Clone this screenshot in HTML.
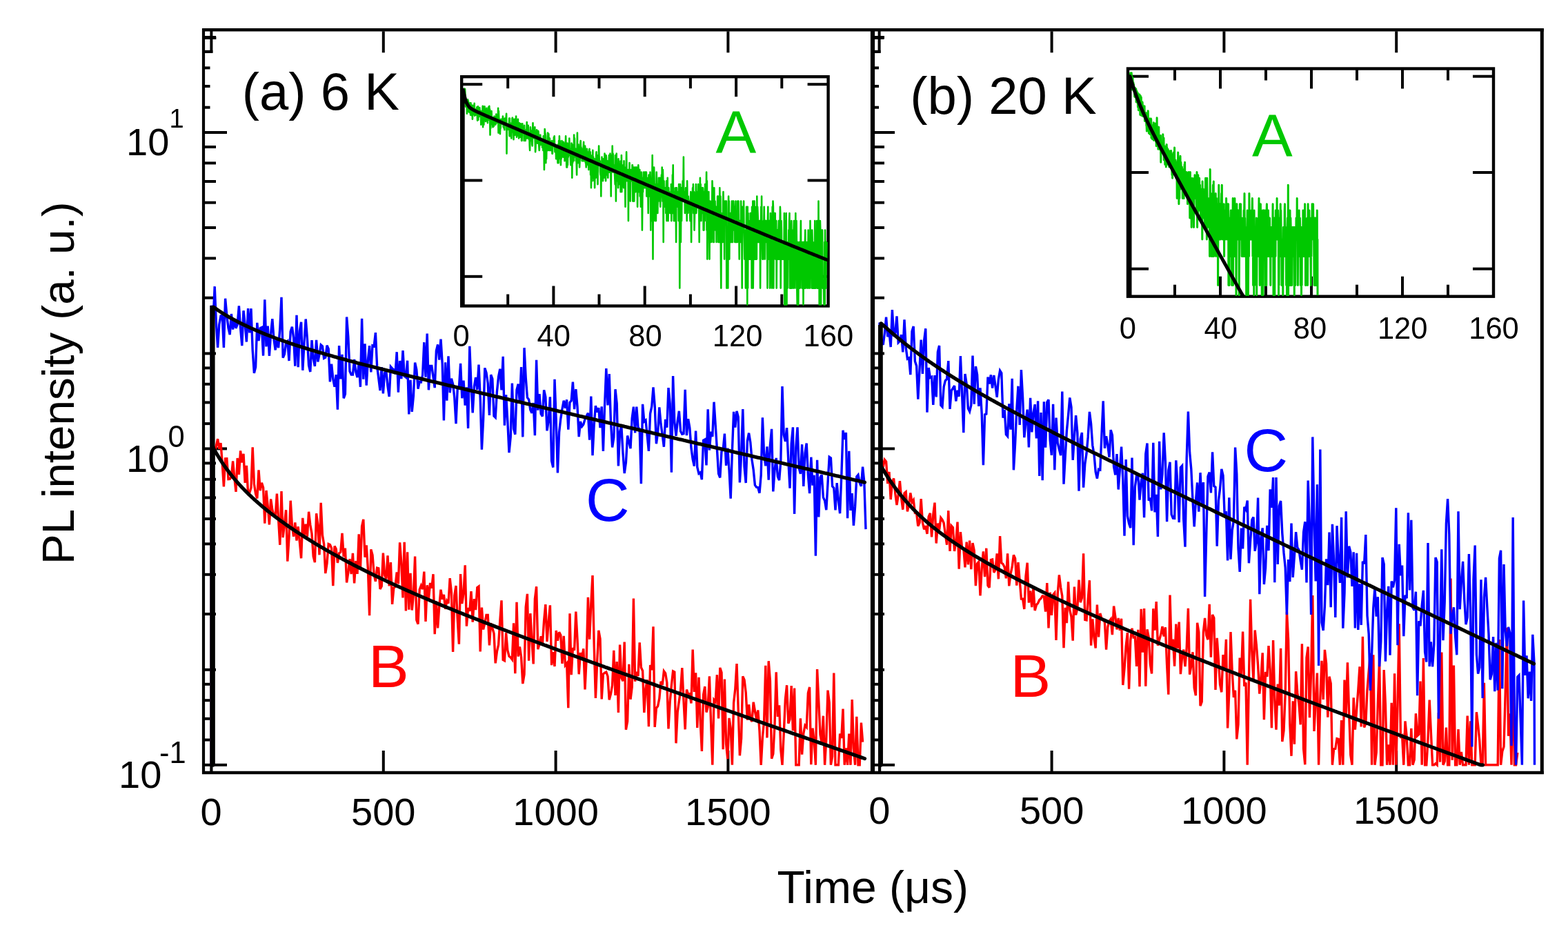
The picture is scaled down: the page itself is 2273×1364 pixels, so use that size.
<!DOCTYPE html>
<html><head><meta charset="utf-8"><title>PL decay</title>
<style>html,body{margin:0;padding:0;background:#fff;overflow:hidden}svg{display:block}text{font-family:"Liberation Sans",Arial,sans-serif}</style>
</head><body>
<svg xmlns="http://www.w3.org/2000/svg" width="2273" height="1364" viewBox="0 0 2273 1364">
<rect x="0" y="0" width="2273" height="1364" fill="#fff"/>
<line x1="293.0" y1="43.3" x2="2237.9" y2="43.3" stroke="#000" stroke-width="4.4" stroke-linecap="butt"/>
<line x1="293.0" y1="1120.0" x2="2237.9" y2="1120.0" stroke="#000" stroke-width="4.4" stroke-linecap="butt"/>
<line x1="295.0" y1="41.3" x2="295.0" y2="1122.0" stroke="#000" stroke-width="4.2" stroke-linecap="butt"/>
<line x1="1265.0" y1="41.3" x2="1265.0" y2="1122.0" stroke="#000" stroke-width="6.2" stroke-linecap="butt"/>
<line x1="2235.3" y1="41.3" x2="2235.3" y2="1122.0" stroke="#000" stroke-width="5.0" stroke-linecap="butt"/>
<line x1="297.0" y1="1108.8" x2="329.0" y2="1108.8" stroke="#000" stroke-width="4" stroke-linecap="butt"/>
<line x1="297.0" y1="970.8" x2="313.0" y2="970.8" stroke="#000" stroke-width="4" stroke-linecap="butt"/>
<line x1="297.0" y1="890.1" x2="313.0" y2="890.1" stroke="#000" stroke-width="4" stroke-linecap="butt"/>
<line x1="297.0" y1="832.8" x2="313.0" y2="832.8" stroke="#000" stroke-width="4" stroke-linecap="butt"/>
<line x1="297.0" y1="788.4" x2="313.0" y2="788.4" stroke="#000" stroke-width="4" stroke-linecap="butt"/>
<line x1="297.0" y1="752.1" x2="313.0" y2="752.1" stroke="#000" stroke-width="4" stroke-linecap="butt"/>
<line x1="297.0" y1="721.4" x2="313.0" y2="721.4" stroke="#000" stroke-width="4" stroke-linecap="butt"/>
<line x1="297.0" y1="694.8" x2="313.0" y2="694.8" stroke="#000" stroke-width="4" stroke-linecap="butt"/>
<line x1="297.0" y1="671.4" x2="313.0" y2="671.4" stroke="#000" stroke-width="4" stroke-linecap="butt"/>
<line x1="297.0" y1="1072.5" x2="304.5" y2="1072.5" stroke="#000" stroke-width="4" stroke-linecap="butt"/>
<line x1="297.0" y1="1041.8" x2="304.5" y2="1041.8" stroke="#000" stroke-width="4" stroke-linecap="butt"/>
<line x1="297.0" y1="1015.2" x2="304.5" y2="1015.2" stroke="#000" stroke-width="4" stroke-linecap="butt"/>
<line x1="297.0" y1="991.8" x2="304.5" y2="991.8" stroke="#000" stroke-width="4" stroke-linecap="butt"/>
<line x1="297.0" y1="650.4" x2="329.0" y2="650.4" stroke="#000" stroke-width="4" stroke-linecap="butt"/>
<line x1="297.0" y1="512.4" x2="313.0" y2="512.4" stroke="#000" stroke-width="4" stroke-linecap="butt"/>
<line x1="297.0" y1="431.7" x2="313.0" y2="431.7" stroke="#000" stroke-width="4" stroke-linecap="butt"/>
<line x1="297.0" y1="374.4" x2="313.0" y2="374.4" stroke="#000" stroke-width="4" stroke-linecap="butt"/>
<line x1="297.0" y1="330.0" x2="313.0" y2="330.0" stroke="#000" stroke-width="4" stroke-linecap="butt"/>
<line x1="297.0" y1="293.7" x2="313.0" y2="293.7" stroke="#000" stroke-width="4" stroke-linecap="butt"/>
<line x1="297.0" y1="263.0" x2="313.0" y2="263.0" stroke="#000" stroke-width="4" stroke-linecap="butt"/>
<line x1="297.0" y1="236.4" x2="313.0" y2="236.4" stroke="#000" stroke-width="4" stroke-linecap="butt"/>
<line x1="297.0" y1="213.0" x2="313.0" y2="213.0" stroke="#000" stroke-width="4" stroke-linecap="butt"/>
<line x1="297.0" y1="614.1" x2="304.5" y2="614.1" stroke="#000" stroke-width="4" stroke-linecap="butt"/>
<line x1="297.0" y1="583.4" x2="304.5" y2="583.4" stroke="#000" stroke-width="4" stroke-linecap="butt"/>
<line x1="297.0" y1="556.8" x2="304.5" y2="556.8" stroke="#000" stroke-width="4" stroke-linecap="butt"/>
<line x1="297.0" y1="533.4" x2="304.5" y2="533.4" stroke="#000" stroke-width="4" stroke-linecap="butt"/>
<line x1="297.0" y1="192.0" x2="329.0" y2="192.0" stroke="#000" stroke-width="4" stroke-linecap="butt"/>
<line x1="297.0" y1="54.0" x2="313.0" y2="54.0" stroke="#000" stroke-width="4" stroke-linecap="butt"/>
<line x1="297.0" y1="155.7" x2="304.5" y2="155.7" stroke="#000" stroke-width="4" stroke-linecap="butt"/>
<line x1="297.0" y1="125.0" x2="304.5" y2="125.0" stroke="#000" stroke-width="4" stroke-linecap="butt"/>
<line x1="297.0" y1="98.4" x2="304.5" y2="98.4" stroke="#000" stroke-width="4" stroke-linecap="butt"/>
<line x1="297.0" y1="75.0" x2="304.5" y2="75.0" stroke="#000" stroke-width="4" stroke-linecap="butt"/>
<line x1="1268.0" y1="1108.8" x2="1297.0" y2="1108.8" stroke="#000" stroke-width="4" stroke-linecap="butt"/>
<line x1="1268.0" y1="970.8" x2="1282.0" y2="970.8" stroke="#000" stroke-width="4" stroke-linecap="butt"/>
<line x1="1268.0" y1="890.1" x2="1282.0" y2="890.1" stroke="#000" stroke-width="4" stroke-linecap="butt"/>
<line x1="1268.0" y1="832.8" x2="1282.0" y2="832.8" stroke="#000" stroke-width="4" stroke-linecap="butt"/>
<line x1="1268.0" y1="788.4" x2="1282.0" y2="788.4" stroke="#000" stroke-width="4" stroke-linecap="butt"/>
<line x1="1268.0" y1="752.1" x2="1282.0" y2="752.1" stroke="#000" stroke-width="4" stroke-linecap="butt"/>
<line x1="1268.0" y1="721.4" x2="1282.0" y2="721.4" stroke="#000" stroke-width="4" stroke-linecap="butt"/>
<line x1="1268.0" y1="694.8" x2="1282.0" y2="694.8" stroke="#000" stroke-width="4" stroke-linecap="butt"/>
<line x1="1268.0" y1="671.4" x2="1282.0" y2="671.4" stroke="#000" stroke-width="4" stroke-linecap="butt"/>
<line x1="1268.0" y1="1072.5" x2="1274.0" y2="1072.5" stroke="#000" stroke-width="4" stroke-linecap="butt"/>
<line x1="1268.0" y1="1041.8" x2="1274.0" y2="1041.8" stroke="#000" stroke-width="4" stroke-linecap="butt"/>
<line x1="1268.0" y1="1015.2" x2="1274.0" y2="1015.2" stroke="#000" stroke-width="4" stroke-linecap="butt"/>
<line x1="1268.0" y1="991.8" x2="1274.0" y2="991.8" stroke="#000" stroke-width="4" stroke-linecap="butt"/>
<line x1="1268.0" y1="650.4" x2="1297.0" y2="650.4" stroke="#000" stroke-width="4" stroke-linecap="butt"/>
<line x1="1268.0" y1="512.4" x2="1282.0" y2="512.4" stroke="#000" stroke-width="4" stroke-linecap="butt"/>
<line x1="1268.0" y1="431.7" x2="1282.0" y2="431.7" stroke="#000" stroke-width="4" stroke-linecap="butt"/>
<line x1="1268.0" y1="374.4" x2="1282.0" y2="374.4" stroke="#000" stroke-width="4" stroke-linecap="butt"/>
<line x1="1268.0" y1="330.0" x2="1282.0" y2="330.0" stroke="#000" stroke-width="4" stroke-linecap="butt"/>
<line x1="1268.0" y1="293.7" x2="1282.0" y2="293.7" stroke="#000" stroke-width="4" stroke-linecap="butt"/>
<line x1="1268.0" y1="263.0" x2="1282.0" y2="263.0" stroke="#000" stroke-width="4" stroke-linecap="butt"/>
<line x1="1268.0" y1="236.4" x2="1282.0" y2="236.4" stroke="#000" stroke-width="4" stroke-linecap="butt"/>
<line x1="1268.0" y1="213.0" x2="1282.0" y2="213.0" stroke="#000" stroke-width="4" stroke-linecap="butt"/>
<line x1="1268.0" y1="614.1" x2="1274.0" y2="614.1" stroke="#000" stroke-width="4" stroke-linecap="butt"/>
<line x1="1268.0" y1="583.4" x2="1274.0" y2="583.4" stroke="#000" stroke-width="4" stroke-linecap="butt"/>
<line x1="1268.0" y1="556.8" x2="1274.0" y2="556.8" stroke="#000" stroke-width="4" stroke-linecap="butt"/>
<line x1="1268.0" y1="533.4" x2="1274.0" y2="533.4" stroke="#000" stroke-width="4" stroke-linecap="butt"/>
<line x1="1268.0" y1="192.0" x2="1297.0" y2="192.0" stroke="#000" stroke-width="4" stroke-linecap="butt"/>
<line x1="1268.0" y1="54.0" x2="1282.0" y2="54.0" stroke="#000" stroke-width="4" stroke-linecap="butt"/>
<line x1="1268.0" y1="155.7" x2="1274.0" y2="155.7" stroke="#000" stroke-width="4" stroke-linecap="butt"/>
<line x1="1268.0" y1="125.0" x2="1274.0" y2="125.0" stroke="#000" stroke-width="4" stroke-linecap="butt"/>
<line x1="1268.0" y1="98.4" x2="1274.0" y2="98.4" stroke="#000" stroke-width="4" stroke-linecap="butt"/>
<line x1="1268.0" y1="75.0" x2="1274.0" y2="75.0" stroke="#000" stroke-width="4" stroke-linecap="butt"/>
<line x1="555.8" y1="45.3" x2="555.8" y2="76.3" stroke="#000" stroke-width="4" stroke-linecap="butt"/>
<line x1="555.8" y1="1118.0" x2="555.8" y2="1088.0" stroke="#000" stroke-width="4" stroke-linecap="butt"/>
<line x1="805.6" y1="45.3" x2="805.6" y2="76.3" stroke="#000" stroke-width="4" stroke-linecap="butt"/>
<line x1="805.6" y1="1118.0" x2="805.6" y2="1088.0" stroke="#000" stroke-width="4" stroke-linecap="butt"/>
<line x1="1055.4" y1="45.3" x2="1055.4" y2="76.3" stroke="#000" stroke-width="4" stroke-linecap="butt"/>
<line x1="1055.4" y1="1118.0" x2="1055.4" y2="1088.0" stroke="#000" stroke-width="4" stroke-linecap="butt"/>
<line x1="1524.6" y1="45.3" x2="1524.6" y2="76.3" stroke="#000" stroke-width="4" stroke-linecap="butt"/>
<line x1="1524.6" y1="1118.0" x2="1524.6" y2="1088.0" stroke="#000" stroke-width="4" stroke-linecap="butt"/>
<line x1="1774.4" y1="45.3" x2="1774.4" y2="76.3" stroke="#000" stroke-width="4" stroke-linecap="butt"/>
<line x1="1774.4" y1="1118.0" x2="1774.4" y2="1088.0" stroke="#000" stroke-width="4" stroke-linecap="butt"/>
<line x1="2024.2" y1="45.3" x2="2024.2" y2="76.3" stroke="#000" stroke-width="4" stroke-linecap="butt"/>
<line x1="2024.2" y1="1118.0" x2="2024.2" y2="1088.0" stroke="#000" stroke-width="4" stroke-linecap="butt"/>
<line x1="306.4" y1="43.3" x2="306.4" y2="76.8" stroke="#000" stroke-width="4" stroke-linecap="butt"/>
<line x1="295.0" y1="74.8" x2="308.4" y2="74.8" stroke="#000" stroke-width="4" stroke-linecap="butt"/>
<line x1="295.0" y1="55.0" x2="313.4" y2="55.0" stroke="#000" stroke-width="4" stroke-linecap="butt"/>
<line x1="1274.6" y1="43.3" x2="1274.6" y2="76.8" stroke="#000" stroke-width="4" stroke-linecap="butt"/>
<line x1="1265.0" y1="74.8" x2="1276.6" y2="74.8" stroke="#000" stroke-width="4" stroke-linecap="butt"/>
<line x1="1265.0" y1="55.0" x2="1281.6" y2="55.0" stroke="#000" stroke-width="4" stroke-linecap="butt"/>
<polyline points="306.4,1108.8 306.4,644.1 309.0,643.6 311.2,655.0 313.4,646.3 315.6,636.2 317.8,650.7 320.0,642.1 322.2,671.0 324.4,705.3 326.6,664.8 328.8,664.7 331.0,694.7 333.2,694.5 335.4,691.0 337.6,668.3 339.8,692.4 342.0,712.8 344.2,664.0 346.4,687.9 348.6,653.4 350.8,670.5 353.0,657.9 355.2,699.8 357.4,674.9 359.6,715.4 361.8,714.2 364.0,707.0 366.2,648.3 368.4,701.4 370.6,715.8 372.8,722.4 375.0,681.4 377.2,711.2 379.4,699.7 381.6,706.7 383.8,758.6 386.0,711.0 388.2,733.5 390.4,760.5 392.6,723.4 394.8,738.8 397.0,747.3 399.2,748.3 401.4,715.5 403.6,752.9 405.8,789.9 408.0,712.0 410.2,779.1 412.4,759.5 414.6,739.2 416.8,813.7 419.0,779.4 421.2,725.7 423.4,762.2 425.6,777.8 427.8,757.5 430.0,783.5 432.2,763.3 434.4,785.5 436.6,809.3 438.8,750.8 441.0,777.5 443.2,759.8 445.4,777.9 447.6,741.8 449.8,761.0 452.0,773.5 454.2,806.5 456.4,815.2 458.6,744.3 460.8,760.8 463.0,804.3 465.2,728.8 467.4,775.6 469.6,788.6 471.8,831.1 474.0,816.5 476.2,788.5 478.4,789.5 480.6,794.6 482.8,849.3 485.0,791.6 487.2,795.8 489.4,815.9 491.6,802.0 493.8,800.1 496.0,772.9 498.2,807.0 500.4,794.6 502.6,844.5 504.8,829.8 507.0,810.2 509.2,832.1 511.4,801.8 513.6,845.5 515.8,813.1 518.0,831.9 520.2,774.2 522.4,825.7 524.6,762.9 526.8,752.8 529.0,807.8 531.2,790.4 533.4,825.0 535.6,892.1 537.8,796.4 540.0,804.5 542.2,832.4 544.4,842.9 546.6,823.2 548.8,823.8 551.0,853.9 553.2,849.9 555.4,801.5 557.6,833.7 559.8,839.0 562.0,805.4 564.2,849.4 566.4,815.0 568.6,875.9 570.8,852.3 573.0,850.1 575.2,829.5 577.4,846.4 579.6,786.4 581.8,816.2 584.0,866.4 586.2,785.8 588.4,885.4 590.6,800.2 592.8,883.8 595.0,830.8 597.2,884.5 599.4,862.5 601.6,806.5 603.8,898.6 606.0,904.7 608.2,854.5 610.4,848.8 612.6,854.1 614.8,828.6 617.0,901.0 619.2,848.3 621.4,868.0 623.6,845.0 625.8,852.6 628.0,832.2 630.2,919.1 632.4,871.5 634.6,910.5 636.8,878.4 639.0,854.7 641.2,868.7 643.4,861.9 645.6,882.9 647.8,870.9 650.0,874.6 652.2,838.2 654.4,858.8 656.6,945.0 658.8,863.1 661.0,849.0 663.2,897.0 665.4,933.6 667.6,832.0 669.8,875.1 672.0,859.6 674.2,819.4 676.4,907.6 678.6,881.2 680.8,885.8 683.0,857.1 685.2,901.7 687.4,868.2 689.6,884.1 691.8,851.7 694.0,850.1 696.2,944.5 698.4,880.6 700.6,912.3 702.8,903.2 705.0,891.4 707.2,891.5 709.4,935.3 711.6,903.3 713.8,910.5 716.0,918.0 718.2,961.3 720.4,944.5 722.6,934.5 724.8,900.1 727.0,870.4 729.2,956.5 731.4,957.7 733.6,917.4 735.8,942.6 738.0,951.2 740.2,953.0 742.4,955.9 744.6,903.4 746.8,976.3 749.0,872.7 751.2,951.6 753.4,937.6 755.6,952.3 757.8,991.1 760.0,977.6 762.2,880.0 764.4,860.9 766.6,957.6 768.8,889.2 771.0,928.6 773.2,962.4 775.4,868.1 777.6,850.3 779.8,941.1 782.0,933.5 784.2,922.2 786.4,933.4 788.6,899.6 790.8,876.1 793.0,930.0 795.2,901.1 797.4,877.3 799.6,964.1 801.8,945.2 804.0,966.0 806.2,914.1 808.4,928.8 810.6,916.3 812.8,920.6 815.0,961.8 817.2,921.8 819.4,964.3 821.6,961.5 823.8,1026.3 826.0,889.2 828.2,978.2 830.4,939.2 832.6,942.7 834.8,886.6 837.0,927.0 839.2,977.3 841.4,946.2 843.6,954.1 845.8,940.2 848.0,999.5 850.2,953.4 852.4,865.8 854.6,926.6 856.8,875.1 859.0,834.1 861.2,935.3 863.4,1012.0 865.6,961.3 867.8,913.8 870.0,925.9 872.2,1013.4 874.4,977.0 876.6,975.3 878.8,974.1 881.0,980.3 883.2,1014.4 885.4,1006.0 887.6,993.4 889.8,942.8 892.0,1008.0 894.2,959.0 896.4,1033.0 898.6,934.6 900.8,982.3 903.0,987.3 905.2,930.5 907.4,1057.8 909.6,1045.6 911.8,962.9 914.0,1013.7 916.2,995.8 918.4,867.5 920.6,987.8 922.8,973.7 925.0,979.9 927.2,931.4 929.4,967.5 931.6,972.5 933.8,1032.9 936.0,998.1 938.2,985.3 940.4,1053.1 942.6,964.0 944.8,971.1 947.0,908.3 949.2,1053.9 951.4,1026.5 953.6,1023.5 955.8,1012.6 958.0,987.8 960.2,992.8 962.4,972.8 964.6,975.9 966.8,989.4 969.0,1056.4 971.2,1017.2 973.4,993.1 975.6,972.9 977.8,974.1 980.0,1077.3 982.2,1032.2 984.4,1016.3 986.6,1000.4 988.8,968.1 991.0,1015.5 993.2,1057.3 995.4,999.6 997.6,1006.4 999.8,1005.7 1002.0,1019.4 1004.2,941.6 1006.4,1002.9 1008.6,975.2 1010.8,1055.0 1013.0,981.7 1015.2,1044.3 1017.4,1089.0 1019.6,1007.1 1021.8,995.1 1024.0,1032.5 1026.2,1024.6 1028.4,980.4 1030.6,1047.8 1032.8,1108.8 1035.0,1014.4 1037.2,1017.2 1039.4,978.2 1041.6,1041.4 1043.8,967.9 1046.0,974.8 1048.2,1086.3 1050.4,984.6 1052.6,1078.5 1054.8,1100.2 1057.0,1040.9 1059.2,1055.4 1061.4,1108.8 1063.6,1018.7 1065.8,998.6 1068.0,962.0 1070.2,1027.5 1072.4,1095.3 1074.6,1070.3 1076.8,980.4 1079.0,985.5 1081.2,1004.0 1083.4,1043.7 1085.6,1021.3 1087.8,1041.8 1090.0,1046.1 1092.2,1017.7 1094.4,1030.6 1096.6,1042.5 1098.8,1029.5 1101.0,1059.3 1103.2,1108.8 1105.4,1068.7 1107.6,1045.7 1109.8,964.7 1112.0,1069.4 1114.2,958.2 1116.4,986.8 1118.6,1099.7 1120.8,1092.6 1123.0,1051.1 1125.2,974.2 1127.4,1038.9 1129.6,1022.3 1131.8,1086.3 1134.0,1108.8 1136.2,1063.7 1138.4,1013.7 1140.6,993.3 1142.8,1048.8 1145.0,1042.6 1147.2,994.0 1149.4,1059.1 1151.6,997.6 1153.8,1108.8 1156.0,1108.8 1158.2,1108.8 1160.4,1041.2 1162.6,1093.6 1164.8,1063.0 1167.0,1051.6 1169.2,1054.2 1171.4,1004.5 1173.6,996.0 1175.8,1108.3 1178.0,1055.5 1180.2,1074.0 1182.4,1108.8 1184.6,970.0 1186.8,1016.7 1189.0,1064.7 1191.2,1076.6 1193.4,1037.7 1195.6,1108.8 1197.8,1071.6 1200.0,1000.6 1202.2,1018.2 1204.4,1108.8 1206.6,1096.6 1208.8,975.6 1211.0,1108.8 1213.2,1108.8 1215.4,1108.8 1217.6,1063.7 1219.8,1069.8 1222.0,1027.6 1224.2,1108.8 1226.4,1084.3 1228.6,1108.8 1230.8,1063.7 1233.0,1108.8 1235.2,1014.0 1237.4,1084.3 1239.6,1108.8 1241.8,1038.7 1244.0,1108.8 1246.2,1108.8 1248.4,1047.6 1250.6,1075.7" fill="none" stroke="#ff0000" stroke-width="3.4" stroke-linejoin="miter" stroke-miterlimit="3" />
<polyline points="306.4,1108.8 306.4,442.8 309.0,464.8 311.2,415.2 313.4,468.9 315.6,503.8 317.8,470.1 320.0,458.0 322.2,457.6 324.4,503.9 326.6,432.7 328.8,457.3 331.0,475.3 333.2,485.2 335.4,455.0 337.6,477.5 339.8,463.4 342.0,475.8 344.2,470.0 346.4,443.3 348.6,475.4 350.8,501.2 353.0,450.2 355.2,470.3 357.4,495.5 359.6,447.2 361.8,482.4 364.0,447.2 366.2,508.0 368.4,540.8 370.6,531.9 372.8,467.9 375.0,494.1 377.2,475.6 379.4,474.6 381.6,515.7 383.8,434.4 386.0,502.4 388.2,472.6 390.4,516.0 392.6,483.6 394.8,462.1 397.0,491.8 399.2,507.4 401.4,489.4 403.6,504.2 405.8,476.5 408.0,430.9 410.2,518.6 412.4,513.2 414.6,497.4 416.8,494.9 419.0,523.0 421.2,480.6 423.4,473.8 425.6,489.5 427.8,530.7 430.0,456.8 432.2,532.2 434.4,479.6 436.6,466.9 438.8,536.8 441.0,496.9 443.2,462.5 445.4,490.8 447.6,529.8 449.8,539.0 452.0,493.2 454.2,520.0 456.4,530.9 458.6,492.9 460.8,524.4 463.0,513.7 465.2,499.9 467.4,501.9 469.6,519.3 471.8,518.2 474.0,500.8 476.2,505.7 478.4,553.3 480.6,527.6 482.8,549.5 485.0,560.6 487.2,543.1 489.4,593.8 491.6,501.1 493.8,549.3 496.0,513.8 498.2,577.3 500.4,571.3 502.6,459.5 504.8,488.4 507.0,538.0 509.2,543.0 511.4,543.0 513.6,520.9 515.8,538.9 518.0,547.1 520.2,526.5 522.4,560.9 524.6,461.9 526.8,549.7 529.0,498.4 531.2,558.7 533.4,521.8 535.6,501.1 537.8,539.5 540.0,500.8 542.2,501.6 544.4,482.2 546.6,530.9 548.8,548.3 551.0,566.1 553.2,532.2 555.4,570.5 557.6,540.6 559.8,538.3 562.0,559.5 564.2,574.9 566.4,531.6 568.6,534.1 570.8,535.9 573.0,542.3 575.2,510.2 577.4,568.6 579.6,523.0 581.8,549.1 584.0,508.2 586.2,545.2 588.4,546.9 590.6,522.7 592.8,600.4 595.0,550.9 597.2,596.9 599.4,573.9 601.6,525.5 603.8,535.7 606.0,563.6 608.2,553.4 610.4,553.9 612.6,543.9 614.8,496.2 617.0,546.6 619.2,483.6 621.4,565.3 623.6,530.4 625.8,530.5 628.0,546.3 630.2,562.1 632.4,508.6 634.6,499.3 636.8,521.7 639.0,491.6 641.2,527.1 643.4,609.4 645.6,525.4 647.8,580.8 650.0,516.2 652.2,569.3 654.4,548.8 656.6,556.7 658.8,576.3 661.0,614.1 663.2,564.0 665.4,561.8 667.6,526.8 669.8,577.3 672.0,551.7 674.2,587.6 676.4,561.4 678.6,620.9 680.8,501.9 683.0,558.5 685.2,598.3 687.4,560.0 689.6,547.0 691.8,564.8 694.0,528.7 696.2,577.2 698.4,651.7 700.6,608.2 702.8,533.4 705.0,540.5 707.2,555.3 709.4,602.0 711.6,543.2 713.8,549.1 716.0,603.0 718.2,605.2 720.4,567.9 722.6,546.1 724.8,534.7 727.0,565.4 729.2,516.8 731.4,616.7 733.6,572.3 735.8,609.8 738.0,656.2 740.2,633.3 742.4,555.5 744.6,621.6 746.8,629.8 749.0,565.2 751.2,556.7 753.4,583.0 755.6,532.1 757.8,633.4 760.0,504.2 762.2,547.6 764.4,576.2 766.6,579.1 768.8,594.0 771.0,598.7 773.2,584.1 775.4,631.2 777.6,521.8 779.8,594.6 782.0,571.1 784.2,599.9 786.4,603.5 788.6,565.4 790.8,575.3 793.0,624.3 795.2,609.7 797.4,575.3 799.6,668.1 801.8,677.5 804.0,549.8 806.2,609.6 808.4,685.4 810.6,626.3 812.8,606.9 815.0,592.8 817.2,580.7 819.4,591.6 821.6,579.4 823.8,622.7 826.0,583.4 828.2,580.9 830.4,553.6 832.6,593.1 834.8,564.2 837.0,589.6 839.2,633.1 841.4,611.0 843.6,618.0 845.8,615.1 848.0,607.5 850.2,603.0 852.4,598.7 854.6,637.7 856.8,574.6 859.0,660.2 861.2,615.5 863.4,588.1 865.6,597.5 867.8,591.2 870.0,620.2 872.2,589.4 874.4,654.0 876.6,586.7 878.8,534.1 881.0,587.4 883.2,542.0 885.4,610.3 887.6,648.5 889.8,634.0 892.0,564.2 894.2,584.9 896.4,675.4 898.6,625.8 900.8,617.1 903.0,657.0 905.2,686.0 907.4,670.4 909.6,631.5 911.8,640.7 914.0,650.2 916.2,606.5 918.4,589.7 920.6,627.4 922.8,589.7 925.0,619.1 927.2,622.6 929.4,701.2 931.6,585.8 933.8,611.0 936.0,609.1 938.2,631.1 940.4,653.9 942.6,599.6 944.8,589.1 947.0,561.3 949.2,588.6 951.4,643.2 953.6,627.0 955.8,590.4 958.0,614.6 960.2,630.3 962.4,647.7 964.6,607.9 966.8,619.7 969.0,562.1 971.2,585.1 973.4,684.7 975.6,545.1 977.8,611.6 980.0,631.7 982.2,610.5 984.4,595.8 986.6,625.0 988.8,629.2 991.0,628.7 993.2,564.9 995.4,631.1 997.6,607.2 999.8,620.0 1002.0,649.6 1004.2,665.8 1006.4,675.7 1008.6,624.6 1010.8,677.2 1013.0,686.4 1015.2,684.9 1017.4,695.1 1019.6,638.3 1021.8,637.1 1024.0,674.4 1026.2,593.4 1028.4,652.5 1030.6,625.7 1032.8,632.9 1035.0,582.7 1037.2,616.4 1039.4,650.8 1041.6,686.7 1043.8,692.4 1046.0,654.1 1048.2,651.7 1050.4,628.7 1052.6,674.8 1054.8,649.6 1057.0,680.8 1059.2,722.6 1061.4,653.7 1063.6,596.8 1065.8,619.5 1068.0,595.8 1070.2,604.6 1072.4,699.5 1074.6,658.8 1076.8,593.1 1079.0,676.1 1081.2,700.0 1083.4,638.9 1085.6,627.7 1087.8,641.1 1090.0,666.4 1092.2,681.0 1094.4,703.2 1096.6,706.2 1098.8,706.7 1101.0,714.7 1103.2,688.6 1105.4,605.2 1107.6,659.0 1109.8,675.3 1112.0,647.4 1114.2,695.6 1116.4,645.3 1118.6,621.9 1120.8,712.4 1123.0,681.4 1125.2,663.9 1127.4,690.8 1129.6,696.0 1131.8,668.5 1134.0,560.1 1136.2,630.4 1138.4,639.8 1140.6,620.2 1142.8,667.3 1145.0,707.6 1147.2,643.2 1149.4,619.4 1151.6,745.0 1153.8,648.7 1156.0,619.3 1158.2,678.3 1160.4,686.9 1162.6,644.2 1164.8,705.0 1167.0,657.0 1169.2,642.5 1171.4,688.5 1173.6,715.1 1175.8,662.7 1178.0,703.6 1180.2,688.8 1182.4,805.8 1184.6,666.8 1186.8,749.4 1189.0,692.0 1191.2,688.3 1193.4,720.9 1195.6,725.7 1197.8,739.2 1200.0,700.6 1202.2,662.4 1204.4,664.0 1206.6,704.8 1208.8,707.4 1211.0,739.5 1213.2,700.2 1215.4,725.5 1217.6,744.2 1219.8,689.9 1222.0,623.7 1224.2,636.9 1226.4,627.0 1228.6,751.2 1230.8,653.8 1233.0,739.9 1235.2,715.0 1237.4,761.8 1239.6,734.4 1241.8,690.9 1244.0,688.3 1246.2,699.9 1248.4,704.7 1250.6,676.6 1252.8,698.6 1255.0,767.1" fill="none" stroke="#0000ff" stroke-width="3.4" stroke-linejoin="miter" stroke-miterlimit="3" />
<polyline points="1275.1,1108.8 1275.1,673.5 1278.0,665.4 1280.2,677.1 1282.4,666.4 1284.6,669.1 1286.8,701.1 1289.0,684.0 1291.2,724.0 1293.4,699.5 1295.6,693.3 1297.8,715.4 1300.0,732.1 1302.2,717.6 1304.4,697.2 1306.6,721.8 1308.8,738.7 1311.0,714.8 1313.2,712.9 1315.4,741.3 1317.6,730.9 1319.8,714.6 1322.0,728.0 1324.2,724.8 1326.4,743.5 1328.6,743.5 1330.8,762.5 1333.0,757.9 1335.2,723.2 1337.4,757.3 1339.6,767.4 1341.8,762.2 1344.0,773.9 1346.2,749.0 1348.4,743.9 1350.6,778.4 1352.8,745.7 1355.0,728.6 1357.2,787.5 1359.4,758.6 1361.6,768.2 1363.8,750.4 1366.0,753.3 1368.2,758.3 1370.4,774.7 1372.6,789.7 1374.8,740.2 1377.0,798.9 1379.2,762.1 1381.4,764.6 1383.6,799.0 1385.8,784.6 1388.0,756.6 1390.2,824.8 1392.4,771.1 1394.6,794.7 1396.8,795.3 1399.0,822.4 1401.2,785.7 1403.4,818.3 1405.6,783.6 1407.8,825.1 1410.0,787.1 1412.2,797.9 1414.4,849.2 1416.6,817.0 1418.8,814.4 1421.0,863.5 1423.2,824.1 1425.4,799.3 1427.6,836.2 1429.8,794.7 1432.0,848.6 1434.2,851.7 1436.4,811.6 1438.6,810.9 1440.8,829.9 1443.0,826.0 1445.2,802.4 1447.4,839.3 1449.6,777.0 1451.8,816.0 1454.0,817.6 1456.2,822.2 1458.4,838.3 1460.6,802.3 1462.8,849.3 1465.0,832.0 1467.2,821.7 1469.4,804.4 1471.6,809.4 1473.8,848.7 1476.0,815.1 1478.2,841.9 1480.4,868.1 1482.6,868.0 1484.8,882.9 1487.0,835.3 1489.2,815.7 1491.4,873.6 1493.6,856.3 1495.8,880.1 1498.0,851.4 1500.2,885.0 1502.4,876.7 1504.6,874.4 1506.8,869.6 1509.0,867.5 1511.2,863.9 1513.4,864.4 1515.6,886.6 1517.8,845.0 1520.0,910.4 1522.2,858.7 1524.4,891.9 1526.6,862.2 1528.8,859.4 1531.0,928.0 1533.2,860.6 1535.4,833.5 1537.6,851.2 1539.8,864.0 1542.0,939.1 1544.2,880.8 1546.4,903.2 1548.6,843.3 1550.8,884.6 1553.0,894.1 1555.2,928.7 1557.4,850.6 1559.6,891.4 1561.8,882.0 1564.0,840.6 1566.2,873.2 1568.4,866.8 1570.6,802.2 1572.8,898.3 1575.0,898.8 1577.2,868.8 1579.4,841.2 1581.6,935.7 1583.8,897.4 1586.0,924.6 1588.2,939.4 1590.4,876.6 1592.6,923.3 1594.8,889.0 1597.0,896.6 1599.2,897.7 1601.4,901.9 1603.6,941.7 1605.8,908.8 1608.0,900.4 1610.2,897.5 1612.4,920.2 1614.6,878.5 1616.8,894.1 1619.0,912.4 1621.2,896.0 1623.4,913.7 1625.6,896.8 1627.8,993.0 1630.0,968.9 1632.2,936.6 1634.4,917.1 1636.6,998.7 1638.8,927.8 1641.0,910.7 1643.2,923.9 1645.4,923.4 1647.6,966.0 1649.8,912.8 1652.0,995.3 1654.2,882.8 1656.4,945.6 1658.6,882.0 1660.8,994.6 1663.0,912.3 1665.2,923.8 1667.4,963.0 1669.6,976.4 1671.8,882.2 1674.0,913.7 1676.2,872.1 1678.4,935.8 1680.6,927.5 1682.8,919.7 1685.0,908.0 1687.2,922.5 1689.4,909.2 1691.6,963.8 1693.8,1006.7 1696.0,862.5 1698.2,939.2 1700.4,926.7 1702.6,965.7 1704.8,904.6 1707.0,939.7 1709.2,901.5 1711.4,977.1 1713.6,952.0 1715.8,941.7 1718.0,966.1 1720.2,939.3 1722.4,881.8 1724.6,977.6 1726.8,965.0 1729.0,945.2 1731.2,997.0 1733.4,1008.1 1735.6,902.8 1737.8,916.4 1740.0,1023.3 1742.2,1017.1 1744.4,916.7 1746.6,895.9 1748.8,920.8 1751.0,927.3 1753.2,875.8 1755.4,952.8 1757.6,891.1 1759.8,895.7 1762.0,999.9 1764.2,924.8 1766.4,956.7 1768.6,992.3 1770.8,1003.3 1773.0,949.1 1775.2,969.1 1777.4,926.8 1779.6,1055.5 1781.8,1002.9 1784.0,916.0 1786.2,973.2 1788.4,1011.0 1790.6,1000.7 1792.8,1071.4 1795.0,1050.0 1797.2,953.6 1799.4,977.3 1801.6,915.5 1803.8,994.8 1806.0,989.5 1808.2,1108.8 1810.4,985.5 1812.6,868.9 1814.8,944.2 1817.0,986.2 1819.2,913.5 1821.4,935.9 1823.6,964.6 1825.8,1005.6 1828.0,982.1 1830.2,946.4 1832.4,1043.2 1834.6,974.1 1836.8,981.0 1839.0,936.0 1841.2,972.2 1843.4,1055.1 1845.6,928.0 1847.8,1014.3 1850.0,1057.6 1852.2,991.5 1854.4,1022.6 1856.6,939.7 1858.8,1074.9 1861.0,1059.1 1863.2,1005.6 1865.4,886.7 1867.6,927.7 1869.8,1049.0 1872.0,1095.8 1874.2,1016.4 1876.4,1078.7 1878.6,973.2 1880.8,1004.2 1883.0,1020.6 1885.2,1050.4 1887.4,933.2 1889.6,1085.4 1891.8,1108.3 1894.0,953.4 1896.2,937.6 1898.4,1040.3 1900.6,973.9 1902.8,863.0 1905.0,1059.9 1907.2,1016.3 1909.4,975.5 1911.6,1108.8 1913.8,1014.2 1916.0,957.8 1918.2,1014.0 1920.4,941.9 1922.6,961.9 1924.8,1039.8 1927.0,980.7 1929.2,990.8 1931.4,1108.8 1933.6,1085.7 1935.8,1085.3 1938.0,1070.6 1940.2,1071.2 1942.4,1108.8 1944.6,1044.1 1946.8,1108.8 1949.0,985.5 1951.2,1036.2 1953.4,960.3 1955.6,1032.7 1957.8,1094.4 1960.0,1108.8 1962.2,1011.4 1964.4,1057.5 1966.6,1029.0 1968.8,1000.5 1971.0,966.4 1973.2,1053.4 1975.4,922.8 1977.6,1054.5 1979.8,1048.8 1982.0,999.8 1984.2,973.6 1986.4,946.8 1988.6,1108.8 1990.8,949.3 1993.0,1108.8 1995.2,1090.7 1997.4,1017.6 1999.6,955.7 2001.8,1108.8 2004.0,1108.8 2006.2,971.1 2008.4,1021.9 2010.6,1108.8 2012.8,1079.3 2015.0,1108.8 2017.2,1018.9 2019.4,1108.8 2021.6,976.2 2023.8,1108.8 2026.0,1021.3 2028.2,904.2 2030.4,1069.8 2032.6,1067.0 2034.8,1108.8 2037.0,1045.4 2039.2,1068.1 2041.4,1108.8 2043.6,1108.8 2045.8,1055.9 2048.0,1108.8 2050.2,1101.3 2052.4,1034.2 2054.6,1066.5 2056.8,1064.4 2059.0,987.6 2061.2,1108.8 2063.4,954.1 2065.6,1108.8 2067.8,1108.8 2070.0,1071.3 2072.2,1014.6 2074.4,1062.3 2076.6,1108.8 2078.8,1108.8 2081.0,1106.8 2083.2,1108.8 2085.4,1033.0 2087.6,1104.6 2089.8,945.4 2092.0,1108.8 2094.2,1103.6 2096.4,1054.6 2098.6,1108.8 2100.8,1108.8 2103.0,838.6 2105.2,1101.7 2107.4,964.5 2109.6,1108.8 2111.8,1108.8 2114.0,1057.0 2116.2,1108.8 2118.4,1090.0 2120.6,1108.8 2122.8,1108.8 2125.0,1108.8 2127.2,1037.6 2129.4,1108.8 2131.6,1045.4 2133.8,1108.8 2136.0,1108.8 2138.2,1108.8 2140.4,1032.3 2142.6,1051.4 2144.8,1073.1 2147.0,1108.8 2149.2,1108.8 2151.4,989.9 2153.6,1108.8 2155.8,1108.8 2158.0,1108.8 2160.2,1108.8 2162.4,1108.8 2164.6,1108.8 2166.8,1108.8 2169.0,1108.8 2171.2,1108.8 2173.4,926.9 2175.6,1108.8 2177.8,1088.9 2180.0,1082.4 2182.2,1006.4 2184.4,909.7 2186.6,1066.8 2188.8,1034.2 2191.0,1108.8 2193.2,951.3 2195.4,1108.8 2197.6,1108.8 2199.8,1091.0" fill="none" stroke="#ff0000" stroke-width="3.4" stroke-linejoin="miter" stroke-miterlimit="3" />
<polyline points="1275.1,1108.8 1275.1,467.5 1278.0,494.9 1280.2,499.8 1282.4,483.1 1284.6,459.7 1286.8,488.1 1289.0,482.0 1291.2,503.0 1293.4,449.0 1295.6,487.6 1297.8,482.0 1300.0,458.4 1302.2,496.6 1304.4,494.4 1306.6,485.2 1308.8,510.4 1311.0,463.4 1313.2,504.0 1315.4,520.1 1317.6,518.9 1319.8,543.1 1322.0,480.4 1324.2,473.1 1326.4,523.8 1328.6,530.4 1330.8,578.7 1333.0,535.5 1335.2,492.6 1337.4,541.8 1339.6,494.0 1341.8,476.2 1344.0,597.7 1346.2,533.0 1348.4,547.4 1350.6,546.3 1352.8,587.0 1355.0,544.2 1357.2,575.5 1359.4,510.2 1361.6,501.0 1363.8,587.4 1366.0,589.7 1368.2,560.4 1370.4,551.7 1372.6,549.4 1374.8,523.1 1377.0,592.9 1379.2,566.3 1381.4,562.7 1383.6,559.1 1385.8,581.5 1388.0,565.7 1390.2,574.8 1392.4,516.0 1394.6,571.4 1396.8,627.2 1399.0,542.1 1401.2,556.9 1403.4,592.0 1405.6,596.5 1407.8,587.3 1410.0,515.6 1412.2,585.7 1414.4,531.0 1416.6,543.1 1418.8,588.9 1421.0,562.3 1423.2,599.9 1425.4,674.3 1427.6,600.9 1429.8,600.0 1432.0,546.6 1434.2,556.5 1436.4,543.4 1438.6,562.6 1440.8,543.9 1443.0,559.2 1445.2,575.9 1447.4,549.9 1449.6,537.2 1451.8,540.7 1454.0,605.6 1456.2,594.2 1458.4,629.8 1460.6,632.4 1462.8,585.4 1465.0,622.6 1467.2,548.8 1469.4,681.3 1471.6,643.0 1473.8,593.2 1476.0,559.7 1478.2,615.9 1480.4,536.0 1482.6,576.7 1484.8,634.2 1487.0,611.6 1489.2,593.6 1491.4,648.4 1493.6,576.8 1495.8,626.4 1498.0,598.7 1500.2,586.2 1502.4,635.3 1504.6,581.3 1506.8,690.0 1509.0,598.1 1511.2,696.3 1513.4,582.3 1515.6,648.8 1517.8,583.0 1520.0,579.4 1522.2,638.3 1524.4,659.8 1526.6,585.8 1528.8,681.2 1531.0,605.6 1533.2,641.7 1535.4,651.4 1537.6,660.1 1539.8,567.5 1542.0,701.7 1544.2,661.7 1546.4,624.0 1548.6,601.6 1550.8,576.4 1553.0,590.4 1555.2,667.0 1557.4,632.8 1559.6,602.1 1561.8,626.8 1564.0,711.8 1566.2,636.2 1568.4,627.1 1570.6,706.7 1572.8,672.4 1575.0,657.6 1577.2,633.4 1579.4,596.9 1581.6,614.5 1583.8,645.7 1586.0,658.4 1588.2,684.0 1590.4,693.6 1592.6,680.3 1594.8,681.0 1597.0,629.5 1599.2,581.3 1601.4,649.8 1603.6,632.3 1605.8,645.3 1608.0,662.7 1610.2,623.2 1612.4,630.9 1614.6,676.5 1616.8,688.5 1619.0,658.0 1621.2,709.5 1623.4,680.6 1625.6,647.7 1627.8,695.2 1630.0,776.8 1632.2,666.0 1634.4,748.1 1636.6,758.9 1638.8,765.3 1641.0,663.5 1643.2,790.2 1645.4,705.9 1647.6,689.2 1649.8,689.4 1652.0,724.7 1654.2,698.3 1656.4,685.9 1658.6,750.1 1660.8,657.9 1663.0,642.6 1665.2,725.6 1667.4,721.8 1669.6,740.4 1671.8,641.9 1674.0,742.4 1676.2,716.8 1678.4,778.0 1680.6,639.9 1682.8,709.4 1685.0,687.4 1687.2,627.3 1689.4,669.2 1691.6,756.2 1693.8,681.7 1696.0,669.9 1698.2,745.7 1700.4,751.2 1702.6,751.4 1704.8,667.4 1707.0,703.6 1709.2,757.3 1711.4,677.6 1713.6,675.1 1715.8,753.6 1718.0,792.6 1720.2,664.0 1722.4,596.5 1724.6,655.5 1726.8,680.0 1729.0,725.0 1731.2,763.3 1733.4,726.8 1735.6,699.5 1737.8,741.6 1740.0,685.2 1742.2,730.1 1744.4,699.0 1746.6,864.9 1748.8,772.4 1751.0,690.5 1753.2,684.5 1755.4,714.4 1757.6,655.3 1759.8,704.6 1762.0,706.1 1764.2,791.7 1766.4,725.7 1768.6,708.3 1770.8,680.0 1773.0,689.3 1775.2,747.6 1777.4,741.2 1779.6,812.4 1781.8,721.3 1784.0,810.7 1786.2,768.8 1788.4,754.5 1790.6,648.6 1792.8,687.0 1795.0,794.7 1797.2,829.0 1799.4,765.5 1801.6,795.4 1803.8,734.9 1806.0,738.6 1808.2,725.6 1810.4,816.3 1812.6,783.9 1814.8,753.7 1817.0,749.5 1819.2,798.8 1821.4,786.1 1823.6,721.6 1825.8,861.2 1828.0,780.0 1830.2,765.4 1832.4,847.0 1834.6,822.9 1836.8,761.8 1839.0,798.2 1841.2,709.3 1843.4,735.8 1845.6,692.0 1847.8,844.3 1850.0,692.0 1852.2,817.9 1854.4,733.3 1856.6,726.0 1858.8,772.8 1861.0,801.2 1863.2,822.8 1865.4,891.0 1867.6,811.1 1869.8,843.1 1872.0,758.6 1874.2,837.0 1876.4,806.0 1878.6,771.2 1880.8,793.6 1883.0,797.3 1885.2,812.7 1887.4,825.7 1889.6,771.2 1891.8,756.3 1894.0,844.5 1896.2,696.6 1898.4,759.9 1900.6,891.0 1902.8,633.4 1905.0,756.2 1907.2,842.4 1909.4,702.2 1911.6,965.1 1913.8,651.6 1916.0,902.4 1918.2,914.0 1920.4,878.3 1922.6,810.4 1924.8,848.1 1927.0,771.6 1929.2,880.3 1931.4,759.9 1933.6,813.4 1935.8,895.0 1938.0,762.2 1940.2,810.2 1942.4,845.0 1944.6,749.9 1946.8,910.8 1949.0,859.7 1951.2,741.2 1953.4,837.3 1955.6,791.8 1957.8,800.2 1960.0,849.8 1962.2,800.3 1964.4,910.5 1966.6,801.9 1968.8,912.9 1971.0,846.2 1973.2,906.0 1975.4,813.9 1977.6,817.3 1979.8,775.0 1982.0,892.3 1984.2,919.0 1986.4,1000.9 1988.6,948.2 1990.8,881.0 1993.0,851.4 1995.2,893.6 1997.4,865.2 1999.6,966.2 2001.8,930.3 2004.0,808.1 2006.2,817.8 2008.4,958.6 2010.6,885.4 2012.8,849.9 2015.0,949.6 2017.2,842.5 2019.4,851.4 2021.6,840.8 2023.8,736.2 2026.0,935.2 2028.2,788.8 2030.4,834.2 2032.6,819.6 2034.8,922.2 2037.0,862.8 2039.2,867.3 2041.4,743.2 2043.6,855.5 2045.8,753.9 2048.0,881.1 2050.2,884.7 2052.4,857.7 2054.6,1008.2 2056.8,900.3 2059.0,907.3 2061.2,877.8 2063.4,855.9 2065.6,945.2 2067.8,959.4 2070.0,787.0 2072.2,966.1 2074.4,930.4 2076.6,966.4 2078.8,934.1 2081.0,808.1 2083.2,814.8 2085.4,1041.8 2087.6,922.9 2089.8,796.2 2092.0,928.1 2094.2,872.5 2096.4,758.8 2098.6,723.0 2100.8,774.7 2103.0,918.8 2105.2,894.9 2107.4,880.3 2109.6,922.5 2111.8,949.3 2114.0,741.3 2116.2,883.1 2118.4,843.2 2120.6,813.9 2122.8,869.3 2125.0,905.1 2127.2,894.7 2129.4,803.0 2131.6,881.1 2133.8,1082.6 2136.0,840.3 2138.2,790.5 2140.4,949.0 2142.6,976.7 2144.8,967.9 2147.0,840.3 2149.2,1012.0 2151.4,865.9 2153.6,836.8 2155.8,879.6 2158.0,918.6 2160.2,985.3 2162.4,977.0 2164.6,923.0 2166.8,1002.3 2169.0,931.8 2171.2,1000.6 2173.4,809.4 2175.6,797.8 2177.8,998.3 2180.0,818.0 2182.2,914.4 2184.4,936.7 2186.6,909.0 2188.8,917.7 2191.0,1080.9 2193.2,749.9 2195.4,1047.9 2197.6,1108.8 2199.8,981.1 2202.0,978.8 2204.2,1042.5 2206.4,1108.8 2208.6,870.6 2210.8,978.8 2213.0,950.2 2215.2,1012.3 2217.4,973.7 2219.6,1015.9 2221.8,919.8 2224.0,961.2 2224.5,1108.8" fill="none" stroke="#0000ff" stroke-width="3.4" stroke-linejoin="miter" stroke-miterlimit="3" />
<line x1="306.4" y1="1120.0" x2="306.4" y2="443.0" stroke="#000" stroke-width="4.2" stroke-linecap="butt"/>
<line x1="1275.1" y1="1120.0" x2="1275.1" y2="471.0" stroke="#000" stroke-width="4.2" stroke-linecap="butt"/>
<polyline points="309.0,1108.8 309.0,445.1 309.5,445.1 311.5,446.5 313.5,447.9 315.5,449.3 317.5,450.6 319.5,451.9 321.5,453.2 323.5,454.4 325.5,455.7 327.5,456.9 329.5,458.1 331.5,459.2 333.5,460.4 335.5,461.5 337.5,462.6 339.5,463.7 341.5,464.7 343.5,465.8 345.5,466.8 347.5,467.8 349.5,468.8 351.5,469.8 353.5,470.8 355.5,471.7 357.5,472.7 359.5,473.6 361.5,474.5 363.5,475.5 365.5,476.4 367.5,477.2 369.5,478.1 371.5,479.0 373.5,479.8 375.5,480.7 377.5,481.5 379.5,482.3 381.5,483.2 383.5,484.0 385.5,484.8 387.5,485.6 389.5,486.3 391.5,487.1 393.5,487.9 395.5,488.6 397.5,489.4 399.5,490.1 401.5,490.9 403.5,491.6 405.5,492.3 407.5,493.0 409.5,493.7 411.5,494.4 413.5,495.1 415.5,495.8 417.5,496.5 419.5,497.2 421.5,497.9 423.5,498.5 425.5,499.2 427.5,499.9 429.5,500.5 431.5,501.2 433.5,501.8 435.5,502.5 437.5,503.1 439.5,503.7 441.5,504.3 443.5,505.0 445.5,505.6 447.5,506.2 449.5,506.8 451.5,507.4 453.5,508.0 455.5,508.6 457.5,509.2 459.5,509.8 461.5,510.4 463.5,511.0 465.5,511.6 467.5,512.1 469.5,512.7 471.5,513.3 473.5,513.9 475.5,514.4 477.5,515.0 479.5,515.6 481.5,516.1 483.5,516.7 485.5,517.2 487.5,517.8 489.5,518.4 491.5,518.9 493.5,519.4 495.5,520.0 497.5,520.5 499.5,521.1 501.5,521.6 503.5,522.2 505.5,522.7 507.5,523.2 509.5,523.7 511.5,524.3 513.5,524.8 515.5,525.3 517.5,525.9 519.5,526.4 521.5,526.9 523.5,527.4 525.5,527.9 527.5,528.5 529.5,529.0 531.5,529.5 533.5,530.0 535.5,530.5 537.5,531.0 539.5,531.5 541.5,532.0 543.5,532.6 545.5,533.1 547.5,533.6 549.5,534.1 551.5,534.6 553.5,535.1 555.5,535.6 557.5,536.1 559.5,536.6 561.5,537.1 563.5,537.6 565.5,538.1 567.5,538.6 569.5,539.1 571.5,539.5 573.5,540.0 575.5,540.5 577.5,541.0 579.5,541.5 581.5,542.0 583.5,542.5 585.5,543.0 587.5,543.5 589.5,544.0 591.5,544.5 593.5,544.9 595.5,545.4 597.5,545.9 599.5,546.4 601.5,546.9 603.5,547.4 605.5,547.8 607.5,548.3 609.5,548.8 611.5,549.3 613.5,549.8 615.5,550.3 617.5,550.7 619.5,551.2 621.5,551.7 623.5,552.2 625.5,552.7 627.5,553.1 629.5,553.6 631.5,554.1 633.5,554.6 635.5,555.0 637.5,555.5 639.5,556.0 641.5,556.5 643.5,557.0 645.5,557.4 647.5,557.9 649.5,558.4 651.5,558.9 653.5,559.3 655.5,559.8 657.5,560.3 659.5,560.8 661.5,561.2 663.5,561.7 665.5,562.2 667.5,562.6 669.5,563.1 671.5,563.6 673.5,564.1 675.5,564.5 677.5,565.0 679.5,565.5 681.5,566.0 683.5,566.4 685.5,566.9 687.5,567.4 689.5,567.8 691.5,568.3 693.5,568.8 695.5,569.2 697.5,569.7 699.5,570.2 701.5,570.7 703.5,571.1 705.5,571.6 707.5,572.1 709.5,572.5 711.5,573.0 713.5,573.5 715.5,573.9 717.5,574.4 719.5,574.9 721.5,575.4 723.5,575.8 725.5,576.3 727.5,576.8 729.5,577.2 731.5,577.7 733.5,578.2 735.5,578.6 737.5,579.1 739.5,579.6 741.5,580.0 743.5,580.5 745.5,581.0 747.5,581.4 749.5,581.9 751.5,582.4 753.5,582.8 755.5,583.3 757.5,583.8 759.5,584.2 761.5,584.7 763.5,585.2 765.5,585.6 767.5,586.1 769.5,586.6 771.5,587.0 773.5,587.5 775.5,588.0 777.5,588.4 779.5,588.9 781.5,589.4 783.5,589.8 785.5,590.3 787.5,590.8 789.5,591.2 791.5,591.7 793.5,592.2 795.5,592.6 797.5,593.1 799.5,593.6 801.5,594.0 803.5,594.5 805.5,595.0 807.5,595.4 809.5,595.9 811.5,596.4 813.5,596.8 815.5,597.3 817.5,597.8 819.5,598.2 821.5,598.7 823.5,599.2 825.5,599.6 827.5,600.1 829.5,600.6 831.5,601.0 833.5,601.5 835.5,602.0 837.5,602.4 839.5,602.9 841.5,603.4 843.5,603.8 845.5,604.3 847.5,604.8 849.5,605.2 851.5,605.7 853.5,606.2 855.5,606.6 857.5,607.1 859.5,607.6 861.5,608.0 863.5,608.5 865.5,609.0 867.5,609.4 869.5,609.9 871.5,610.3 873.5,610.8 875.5,611.3 877.5,611.7 879.5,612.2 881.5,612.7 883.5,613.1 885.5,613.6 887.5,614.1 889.5,614.5 891.5,615.0 893.5,615.5 895.5,615.9 897.5,616.4 899.5,616.9 901.5,617.3 903.5,617.8 905.5,618.3 907.5,618.7 909.5,619.2 911.5,619.7 913.5,620.1 915.5,620.6 917.5,621.1 919.5,621.5 921.5,622.0 923.5,622.4 925.5,622.9 927.5,623.4 929.5,623.8 931.5,624.3 933.5,624.8 935.5,625.2 937.5,625.7 939.5,626.2 941.5,626.6 943.5,627.1 945.5,627.6 947.5,628.0 949.5,628.5 951.5,629.0 953.5,629.4 955.5,629.9 957.5,630.4 959.5,630.8 961.5,631.3 963.5,631.7 965.5,632.2 967.5,632.7 969.5,633.1 971.5,633.6 973.5,634.1 975.5,634.5 977.5,635.0 979.5,635.5 981.5,635.9 983.5,636.4 985.5,636.9 987.5,637.3 989.5,637.8 991.5,638.3 993.5,638.7 995.5,639.2 997.5,639.7 999.5,640.1 1001.5,640.6 1003.5,641.0 1005.5,641.5 1007.5,642.0 1009.5,642.4 1011.5,642.9 1013.5,643.4 1015.5,643.8 1017.5,644.3 1019.5,644.8 1021.5,645.2 1023.5,645.7 1025.5,646.2 1027.5,646.6 1029.5,647.1 1031.5,647.6 1033.5,648.0 1035.5,648.5 1037.5,649.0 1039.5,649.4 1041.5,649.9 1043.5,650.3 1045.5,650.8 1047.5,651.3 1049.5,651.7 1051.5,652.2 1053.5,652.7 1055.5,653.1 1057.5,653.6 1059.5,654.1 1061.5,654.5 1063.5,655.0 1065.5,655.5 1067.5,655.9 1069.5,656.4 1071.5,656.9 1073.5,657.3 1075.5,657.8 1077.5,658.3 1079.5,658.7 1081.5,659.2 1083.5,659.6 1085.5,660.1 1087.5,660.6 1089.5,661.0 1091.5,661.5 1093.5,662.0 1095.5,662.4 1097.5,662.9 1099.5,663.4 1101.5,663.8 1103.5,664.3 1105.5,664.8 1107.5,665.2 1109.5,665.7 1111.5,666.2 1113.5,666.6 1115.5,667.1 1117.5,667.6 1119.5,668.0 1121.5,668.5 1123.5,668.9 1125.5,669.4 1127.5,669.9 1129.5,670.3 1131.5,670.8 1133.5,671.3 1135.5,671.7 1137.5,672.2 1139.5,672.7 1141.5,673.1 1143.5,673.6 1145.5,674.1 1147.5,674.5 1149.5,675.0 1151.5,675.5 1153.5,675.9 1155.5,676.4 1157.5,676.9 1159.5,677.3 1161.5,677.8 1163.5,678.2 1165.5,678.7 1167.5,679.2 1169.5,679.6 1171.5,680.1 1173.5,680.6 1175.5,681.0 1177.5,681.5 1179.5,682.0 1181.5,682.4 1183.5,682.9 1185.5,683.4 1187.5,683.8 1189.5,684.3 1191.5,684.8 1193.5,685.2 1195.5,685.7 1197.5,686.1 1199.5,686.6 1201.5,687.1 1203.5,687.5 1205.5,688.0 1207.5,688.5 1209.5,688.9 1211.5,689.4 1213.5,689.9 1215.5,690.3 1217.5,690.8 1219.5,691.3 1221.5,691.7 1223.5,692.2 1225.5,692.7 1227.5,693.1 1229.5,693.6 1231.5,694.1 1233.5,694.5 1235.5,695.0 1237.5,695.4 1239.5,695.9 1241.5,696.4 1243.5,696.8 1245.5,697.3 1247.5,697.8 1249.5,698.2 1251.5,698.7 1253.5,699.2" fill="none" stroke="#000" stroke-width="5.2" stroke-linejoin="round" stroke-miterlimit="3" stroke-linecap="round"/>
<polyline points="309.0,1108.8 309.0,649.7 309.5,649.7 311.5,653.3 313.5,656.8 315.5,660.1 317.5,663.4 319.5,666.5 321.5,669.6 323.5,672.6 325.5,675.5 327.5,678.3 329.5,681.1 331.5,683.7 333.5,686.3 335.5,688.9 337.5,691.4 339.5,693.8 341.5,696.2 343.5,698.5 345.5,700.7 347.5,702.9 349.5,705.1 351.5,707.2 353.5,709.3 355.5,711.4 357.5,713.4 359.5,715.4 361.5,717.3 363.5,719.2 365.5,721.1 367.5,722.9 369.5,724.8 371.5,726.5 373.5,728.3 375.5,730.1 377.5,731.8 379.5,733.5 381.5,735.2 383.5,736.8 385.5,738.4 387.5,740.1 389.5,741.7 391.5,743.2 393.5,744.8 395.5,746.3 397.5,747.9 399.5,749.4 401.5,750.9 403.5,752.4 405.5,753.8 407.5,755.3 409.5,756.7 411.5,758.2 413.5,759.6 415.5,761.0 417.5,762.4 419.5,763.8 421.5,765.1 423.5,766.5 425.5,767.8 427.5,769.2 429.5,770.5 431.5,771.8 433.5,773.1 435.5,774.4 437.5,775.7 439.5,777.0 441.5,778.3 443.5,779.5 445.5,780.8 447.5,782.0 449.5,783.3 451.5,784.5 453.5,785.7 455.5,787.0 457.5,788.2 459.5,789.4 461.5,790.6 463.5,791.7 465.5,792.9 467.5,794.1 469.5,795.3 471.5,796.4 473.5,797.6 475.5,798.7 477.5,799.8 479.5,801.0 481.5,802.1 483.5,803.2 485.5,804.3 487.5,805.4 489.5,806.5 491.5,807.6 493.5,808.7 495.5,809.8 497.5,810.9 499.5,812.0 501.5,813.0 503.5,814.1 505.5,815.1 507.5,816.2 509.5,817.2 511.5,818.3 513.5,819.3 515.5,820.3 517.5,821.4 519.5,822.4 521.5,823.4 523.5,824.4 525.5,825.4 527.5,826.4 529.5,827.4 531.5,828.4 533.5,829.4 535.5,830.4 537.5,831.4 539.5,832.4 541.5,833.3 543.5,834.3 545.5,835.3 547.5,836.2 549.5,837.2 551.5,838.1 553.5,839.1 555.5,840.0 557.5,841.0 559.5,841.9 561.5,842.8 563.5,843.8 565.5,844.7 567.5,845.6 569.5,846.5 571.5,847.5 573.5,848.4 575.5,849.3 577.5,850.2 579.5,851.1 581.5,852.0 583.5,852.9 585.5,853.8 587.5,854.7 589.5,855.6 591.5,856.5 593.5,857.3 595.5,858.2 597.5,859.1 599.5,860.0 601.5,860.9 603.5,861.7 605.5,862.6 607.5,863.5 609.5,864.3 611.5,865.2 613.5,866.0 615.5,866.9 617.5,867.7 619.5,868.6 621.5,869.4 623.5,870.3 625.5,871.1 627.5,872.0 629.5,872.8 631.5,873.6 633.5,874.5 635.5,875.3 637.5,876.1 639.5,877.0 641.5,877.8 643.5,878.6 645.5,879.4 647.5,880.3 649.5,881.1 651.5,881.9 653.5,882.7 655.5,883.5 657.5,884.3 659.5,885.2 661.5,886.0 663.5,886.8 665.5,887.6 667.5,888.4 669.5,889.2 671.5,890.0 673.5,890.8 675.5,891.6 677.5,892.4 679.5,893.2 681.5,894.0 683.5,894.7 685.5,895.5 687.5,896.3 689.5,897.1 691.5,897.9 693.5,898.7 695.5,899.5 697.5,900.2 699.5,901.0 701.5,901.8 703.5,902.6 705.5,903.4 707.5,904.1 709.5,904.9 711.5,905.7 713.5,906.4 715.5,907.2 717.5,908.0 719.5,908.8 721.5,909.5 723.5,910.3 725.5,911.1 727.5,911.8 729.5,912.6 731.5,913.3 733.5,914.1 735.5,914.9 737.5,915.6 739.5,916.4 741.5,917.1 743.5,917.9 745.5,918.6 747.5,919.4 749.5,920.2 751.5,920.9 753.5,921.7 755.5,922.4 757.5,923.2 759.5,923.9 761.5,924.7 763.5,925.4 765.5,926.2 767.5,926.9 769.5,927.6 771.5,928.4 773.5,929.1 775.5,929.9 777.5,930.6 779.5,931.4 781.5,932.1 783.5,932.8 785.5,933.6 787.5,934.3 789.5,935.1 791.5,935.8 793.5,936.5 795.5,937.3 797.5,938.0 799.5,938.7 801.5,939.5 803.5,940.2 805.5,940.9 807.5,941.7 809.5,942.4 811.5,943.1 813.5,943.9 815.5,944.6 817.5,945.3 819.5,946.1 821.5,946.8 823.5,947.5 825.5,948.3 827.5,949.0 829.5,949.7 831.5,950.4 833.5,951.2 835.5,951.9 837.5,952.6 839.5,953.3 841.5,954.1 843.5,954.8 845.5,955.5 847.5,956.2 849.5,957.0 851.5,957.7 853.5,958.4 855.5,959.1 857.5,959.9 859.5,960.6 861.5,961.3 863.5,962.0 865.5,962.7 867.5,963.5 869.5,964.2 871.5,964.9 873.5,965.6 875.5,966.3 877.5,967.1 879.5,967.8 881.5,968.5 883.5,969.2 885.5,969.9 887.5,970.6 889.5,971.4 891.5,972.1 893.5,972.8 895.5,973.5 897.5,974.2 899.5,974.9 901.5,975.7 903.5,976.4 905.5,977.1 907.5,977.8 909.5,978.5 911.5,979.2 913.5,979.9 915.5,980.7 917.5,981.4 919.5,982.1 921.5,982.8 923.5,983.5 925.5,984.2 927.5,984.9 929.5,985.6 931.5,986.4 933.5,987.1 935.5,987.8 937.5,988.5 939.5,989.2 941.5,989.9 943.5,990.6 945.5,991.3 947.5,992.0 949.5,992.8 951.5,993.5 953.5,994.2 955.5,994.9 957.5,995.6 959.5,996.3 961.5,997.0 963.5,997.7 965.5,998.4 967.5,999.1 969.5,999.8 971.5,1000.6 973.5,1001.3 975.5,1002.0 977.5,1002.7 979.5,1003.4 981.5,1004.1 983.5,1004.8 985.5,1005.5 987.5,1006.2 989.5,1006.9 991.5,1007.6 993.5,1008.3 995.5,1009.0 997.5,1009.7 999.5,1010.5 1001.5,1011.2 1003.5,1011.9 1005.5,1012.6 1007.5,1013.3 1009.5,1014.0 1011.5,1014.7 1013.5,1015.4 1015.5,1016.1 1017.5,1016.8 1019.5,1017.5 1021.5,1018.2 1023.5,1018.9 1025.5,1019.6 1027.5,1020.3 1029.5,1021.0 1031.5,1021.7 1033.5,1022.4 1035.5,1023.2 1037.5,1023.9 1039.5,1024.6 1041.5,1025.3 1043.5,1026.0 1045.5,1026.7 1047.5,1027.4 1049.5,1028.1 1051.5,1028.8 1053.5,1029.5 1055.5,1030.2 1057.5,1030.9 1059.5,1031.6 1061.5,1032.3 1063.5,1033.0 1065.5,1033.7 1067.5,1034.4 1069.5,1035.1 1071.5,1035.8 1073.5,1036.5 1075.5,1037.2 1077.5,1037.9 1079.5,1038.6 1081.5,1039.3 1083.5,1040.0 1085.5,1040.7 1087.5,1041.4 1089.5,1042.1 1091.5,1042.8 1093.5,1043.6 1095.5,1044.3 1097.5,1045.0 1099.5,1045.7 1101.5,1046.4 1103.5,1047.1 1105.5,1047.8 1107.5,1048.5 1109.5,1049.2 1111.5,1049.9 1113.5,1050.6 1115.5,1051.3 1117.5,1052.0 1119.5,1052.7 1121.5,1053.4 1123.5,1054.1 1125.5,1054.8 1127.5,1055.5 1129.5,1056.2 1131.5,1056.9 1133.5,1057.6 1135.5,1058.3 1137.5,1059.0 1139.5,1059.7 1141.5,1060.4 1143.5,1061.1 1145.5,1061.8 1147.5,1062.5 1149.5,1063.2 1151.5,1063.9 1153.5,1064.6 1155.5,1065.3 1157.5,1066.0 1159.5,1066.7 1161.5,1067.4 1163.5,1068.1 1165.5,1068.8 1167.5,1069.5 1169.5,1070.2 1171.5,1070.9 1173.5,1071.6 1175.5,1072.3 1177.5,1073.0 1179.5,1073.7 1181.5,1074.4 1183.5,1075.1 1185.5,1075.8 1187.5,1076.5 1189.5,1077.2 1191.5,1077.9 1193.5,1078.6 1195.5,1079.3 1197.5,1080.0 1199.5,1080.7 1201.5,1081.4 1203.5,1082.1 1205.5,1082.8 1207.5,1083.5 1209.5,1084.2 1211.5,1084.9 1213.5,1085.6 1215.5,1086.3 1217.5,1087.0 1219.5,1087.7 1221.5,1088.4 1223.5,1089.1 1225.5,1089.8 1227.5,1090.5 1229.5,1091.2 1231.5,1091.9 1233.5,1092.6 1235.5,1093.3 1237.5,1094.0 1239.5,1094.7 1241.5,1095.4 1243.5,1096.1 1245.5,1096.8 1247.5,1097.5 1249.5,1098.2 1251.5,1098.9 1253.5,1099.6" fill="none" stroke="#000" stroke-width="5.2" stroke-linejoin="round" stroke-miterlimit="3" stroke-linecap="round"/>
<polyline points="1277.2,1108.8 1277.2,468.8 1277.5,468.8 1279.5,470.7 1281.5,472.5 1283.5,474.3 1285.5,476.0 1287.5,477.8 1289.5,479.5 1291.5,481.3 1293.5,483.0 1295.5,484.7 1297.5,486.4 1299.5,488.0 1301.5,489.7 1303.5,491.3 1305.5,492.9 1307.5,494.6 1309.5,496.2 1311.5,497.8 1313.5,499.3 1315.5,500.9 1317.5,502.4 1319.5,504.0 1321.5,505.5 1323.5,507.0 1325.5,508.5 1327.5,510.0 1329.5,511.5 1331.5,513.0 1333.5,514.4 1335.5,515.9 1337.5,517.3 1339.5,518.7 1341.5,520.2 1343.5,521.6 1345.5,523.0 1347.5,524.4 1349.5,525.7 1351.5,527.1 1353.5,528.5 1355.5,529.8 1357.5,531.2 1359.5,532.5 1361.5,533.8 1363.5,535.2 1365.5,536.5 1367.5,537.8 1369.5,539.1 1371.5,540.4 1373.5,541.7 1375.5,542.9 1377.5,544.2 1379.5,545.5 1381.5,546.7 1383.5,548.0 1385.5,549.2 1387.5,550.5 1389.5,551.7 1391.5,552.9 1393.5,554.1 1395.5,555.3 1397.5,556.6 1399.5,557.8 1401.5,559.0 1403.5,560.1 1405.5,561.3 1407.5,562.5 1409.5,563.7 1411.5,564.9 1413.5,566.0 1415.5,567.2 1417.5,568.4 1419.5,569.5 1421.5,570.7 1423.5,571.8 1425.5,572.9 1427.5,574.1 1429.5,575.2 1431.5,576.3 1433.5,577.5 1435.5,578.6 1437.5,579.7 1439.5,580.8 1441.5,581.9 1443.5,583.0 1445.5,584.1 1447.5,585.2 1449.5,586.3 1451.5,587.4 1453.5,588.5 1455.5,589.6 1457.5,590.7 1459.5,591.8 1461.5,592.9 1463.5,593.9 1465.5,595.0 1467.5,596.1 1469.5,597.2 1471.5,598.2 1473.5,599.3 1475.5,600.4 1477.5,601.4 1479.5,602.5 1481.5,603.5 1483.5,604.6 1485.5,605.6 1487.5,606.7 1489.5,607.7 1491.5,608.8 1493.5,609.8 1495.5,610.8 1497.5,611.9 1499.5,612.9 1501.5,614.0 1503.5,615.0 1505.5,616.0 1507.5,617.1 1509.5,618.1 1511.5,619.1 1513.5,620.1 1515.5,621.2 1517.5,622.2 1519.5,623.2 1521.5,624.2 1523.5,625.2 1525.5,626.3 1527.5,627.3 1529.5,628.3 1531.5,629.3 1533.5,630.3 1535.5,631.3 1537.5,632.3 1539.5,633.3 1541.5,634.3 1543.5,635.4 1545.5,636.4 1547.5,637.4 1549.5,638.4 1551.5,639.4 1553.5,640.4 1555.5,641.4 1557.5,642.4 1559.5,643.4 1561.5,644.4 1563.5,645.4 1565.5,646.3 1567.5,647.3 1569.5,648.3 1571.5,649.3 1573.5,650.3 1575.5,651.3 1577.5,652.3 1579.5,653.3 1581.5,654.3 1583.5,655.3 1585.5,656.3 1587.5,657.2 1589.5,658.2 1591.5,659.2 1593.5,660.2 1595.5,661.2 1597.5,662.2 1599.5,663.1 1601.5,664.1 1603.5,665.1 1605.5,666.1 1607.5,667.1 1609.5,668.1 1611.5,669.0 1613.5,670.0 1615.5,671.0 1617.5,672.0 1619.5,672.9 1621.5,673.9 1623.5,674.9 1625.5,675.9 1627.5,676.8 1629.5,677.8 1631.5,678.8 1633.5,679.8 1635.5,680.7 1637.5,681.7 1639.5,682.7 1641.5,683.7 1643.5,684.6 1645.5,685.6 1647.5,686.6 1649.5,687.6 1651.5,688.5 1653.5,689.5 1655.5,690.5 1657.5,691.4 1659.5,692.4 1661.5,693.4 1663.5,694.3 1665.5,695.3 1667.5,696.3 1669.5,697.3 1671.5,698.2 1673.5,699.2 1675.5,700.2 1677.5,701.1 1679.5,702.1 1681.5,703.1 1683.5,704.0 1685.5,705.0 1687.5,706.0 1689.5,706.9 1691.5,707.9 1693.5,708.9 1695.5,709.8 1697.5,710.8 1699.5,711.8 1701.5,712.7 1703.5,713.7 1705.5,714.6 1707.5,715.6 1709.5,716.6 1711.5,717.5 1713.5,718.5 1715.5,719.5 1717.5,720.4 1719.5,721.4 1721.5,722.4 1723.5,723.3 1725.5,724.3 1727.5,725.2 1729.5,726.2 1731.5,727.2 1733.5,728.1 1735.5,729.1 1737.5,730.1 1739.5,731.0 1741.5,732.0 1743.5,732.9 1745.5,733.9 1747.5,734.9 1749.5,735.8 1751.5,736.8 1753.5,737.7 1755.5,738.7 1757.5,739.7 1759.5,740.6 1761.5,741.6 1763.5,742.6 1765.5,743.5 1767.5,744.5 1769.5,745.4 1771.5,746.4 1773.5,747.4 1775.5,748.3 1777.5,749.3 1779.5,750.2 1781.5,751.2 1783.5,752.2 1785.5,753.1 1787.5,754.1 1789.5,755.0 1791.5,756.0 1793.5,756.9 1795.5,757.9 1797.5,758.9 1799.5,759.8 1801.5,760.8 1803.5,761.7 1805.5,762.7 1807.5,763.7 1809.5,764.6 1811.5,765.6 1813.5,766.5 1815.5,767.5 1817.5,768.4 1819.5,769.4 1821.5,770.4 1823.5,771.3 1825.5,772.3 1827.5,773.2 1829.5,774.2 1831.5,775.2 1833.5,776.1 1835.5,777.1 1837.5,778.0 1839.5,779.0 1841.5,779.9 1843.5,780.9 1845.5,781.9 1847.5,782.8 1849.5,783.8 1851.5,784.7 1853.5,785.7 1855.5,786.6 1857.5,787.6 1859.5,788.6 1861.5,789.5 1863.5,790.5 1865.5,791.4 1867.5,792.4 1869.5,793.3 1871.5,794.3 1873.5,795.2 1875.5,796.2 1877.5,797.2 1879.5,798.1 1881.5,799.1 1883.5,800.0 1885.5,801.0 1887.5,801.9 1889.5,802.9 1891.5,803.9 1893.5,804.8 1895.5,805.8 1897.5,806.7 1899.5,807.7 1901.5,808.6 1903.5,809.6 1905.5,810.5 1907.5,811.5 1909.5,812.5 1911.5,813.4 1913.5,814.4 1915.5,815.3 1917.5,816.3 1919.5,817.2 1921.5,818.2 1923.5,819.1 1925.5,820.1 1927.5,821.1 1929.5,822.0 1931.5,823.0 1933.5,823.9 1935.5,824.9 1937.5,825.8 1939.5,826.8 1941.5,827.7 1943.5,828.7 1945.5,829.6 1947.5,830.6 1949.5,831.6 1951.5,832.5 1953.5,833.5 1955.5,834.4 1957.5,835.4 1959.5,836.3 1961.5,837.3 1963.5,838.2 1965.5,839.2 1967.5,840.1 1969.5,841.1 1971.5,842.1 1973.5,843.0 1975.5,844.0 1977.5,844.9 1979.5,845.9 1981.5,846.8 1983.5,847.8 1985.5,848.7 1987.5,849.7 1989.5,850.6 1991.5,851.6 1993.5,852.6 1995.5,853.5 1997.5,854.5 1999.5,855.4 2001.5,856.4 2003.5,857.3 2005.5,858.3 2007.5,859.2 2009.5,860.2 2011.5,861.1 2013.5,862.1 2015.5,863.0 2017.5,864.0 2019.5,865.0 2021.5,865.9 2023.5,866.9 2025.5,867.8 2027.5,868.8 2029.5,869.7 2031.5,870.7 2033.5,871.6 2035.5,872.6 2037.5,873.5 2039.5,874.5 2041.5,875.4 2043.5,876.4 2045.5,877.3 2047.5,878.3 2049.5,879.3 2051.5,880.2 2053.5,881.2 2055.5,882.1 2057.5,883.1 2059.5,884.0 2061.5,885.0 2063.5,885.9 2065.5,886.9 2067.5,887.8 2069.5,888.8 2071.5,889.7 2073.5,890.7 2075.5,891.6 2077.5,892.6 2079.5,893.5 2081.5,894.5 2083.5,895.5 2085.5,896.4 2087.5,897.4 2089.5,898.3 2091.5,899.3 2093.5,900.2 2095.5,901.2 2097.5,902.1 2099.5,903.1 2101.5,904.0 2103.5,905.0 2105.5,905.9 2107.5,906.9 2109.5,907.8 2111.5,908.8 2113.5,909.7 2115.5,910.7 2117.5,911.6 2119.5,912.6 2121.5,913.5 2123.5,914.5 2125.5,915.5 2127.5,916.4 2129.5,917.4 2131.5,918.3 2133.5,919.3 2135.5,920.2 2137.5,921.2 2139.5,922.1 2141.5,923.1 2143.5,924.0 2145.5,925.0 2147.5,925.9 2149.5,926.9 2151.5,927.8 2153.5,928.8 2155.5,929.7 2157.5,930.7 2159.5,931.6 2161.5,932.6 2163.5,933.5 2165.5,934.5 2167.5,935.4 2169.5,936.4 2171.5,937.3 2173.5,938.3 2175.5,939.2 2177.5,940.2 2179.5,941.1 2181.5,942.1 2183.5,943.1 2185.5,944.0 2187.5,945.0 2189.5,945.9 2191.5,946.9 2193.5,947.8 2195.5,948.8 2197.5,949.7 2199.5,950.7 2201.5,951.6 2203.5,952.6 2205.5,953.5 2207.5,954.5 2209.5,955.4 2211.5,956.4 2213.5,957.3 2215.5,958.3 2217.5,959.2 2219.5,960.2 2221.5,961.1 2223.5,962.1" fill="none" stroke="#000" stroke-width="5.2" stroke-linejoin="round" stroke-miterlimit="3" stroke-linecap="round"/>
<polyline points="1277.2,1108.8 1277.2,676.2 1277.5,676.2 1279.5,679.6 1281.5,682.9 1283.5,686.2 1285.5,689.4 1287.5,692.5 1289.5,695.5 1291.5,698.4 1293.5,701.3 1295.5,704.1 1297.5,706.9 1299.5,709.6 1301.5,712.2 1303.5,714.8 1305.5,717.3 1307.5,719.7 1309.5,722.1 1311.5,724.5 1313.5,726.8 1315.5,729.0 1317.5,731.3 1319.5,733.4 1321.5,735.5 1323.5,737.6 1325.5,739.7 1327.5,741.7 1329.5,743.6 1331.5,745.6 1333.5,747.5 1335.5,749.3 1337.5,751.1 1339.5,752.9 1341.5,754.7 1343.5,756.5 1345.5,758.2 1347.5,759.9 1349.5,761.5 1351.5,763.2 1353.5,764.8 1355.5,766.4 1357.5,768.0 1359.5,769.5 1361.5,771.1 1363.5,772.6 1365.5,774.1 1367.5,775.6 1369.5,777.0 1371.5,778.5 1373.5,779.9 1375.5,781.3 1377.5,782.7 1379.5,784.1 1381.5,785.5 1383.5,786.8 1385.5,788.2 1387.5,789.5 1389.5,790.8 1391.5,792.1 1393.5,793.4 1395.5,794.7 1397.5,796.0 1399.5,797.3 1401.5,798.5 1403.5,799.8 1405.5,801.0 1407.5,802.2 1409.5,803.4 1411.5,804.7 1413.5,805.9 1415.5,807.1 1417.5,808.2 1419.5,809.4 1421.5,810.6 1423.5,811.8 1425.5,812.9 1427.5,814.1 1429.5,815.2 1431.5,816.4 1433.5,817.5 1435.5,818.6 1437.5,819.7 1439.5,820.9 1441.5,822.0 1443.5,823.1 1445.5,824.2 1447.5,825.3 1449.5,826.4 1451.5,827.4 1453.5,828.5 1455.5,829.6 1457.5,830.7 1459.5,831.7 1461.5,832.8 1463.5,833.8 1465.5,834.9 1467.5,835.9 1469.5,837.0 1471.5,838.0 1473.5,839.1 1475.5,840.1 1477.5,841.1 1479.5,842.1 1481.5,843.2 1483.5,844.2 1485.5,845.2 1487.5,846.2 1489.5,847.2 1491.5,848.2 1493.5,849.2 1495.5,850.2 1497.5,851.2 1499.5,852.2 1501.5,853.2 1503.5,854.2 1505.5,855.1 1507.5,856.1 1509.5,857.1 1511.5,858.1 1513.5,859.0 1515.5,860.0 1517.5,861.0 1519.5,861.9 1521.5,862.9 1523.5,863.8 1525.5,864.8 1527.5,865.7 1529.5,866.7 1531.5,867.6 1533.5,868.5 1535.5,869.5 1537.5,870.4 1539.5,871.4 1541.5,872.3 1543.5,873.2 1545.5,874.1 1547.5,875.1 1549.5,876.0 1551.5,876.9 1553.5,877.8 1555.5,878.7 1557.5,879.7 1559.5,880.6 1561.5,881.5 1563.5,882.4 1565.5,883.3 1567.5,884.2 1569.5,885.1 1571.5,886.0 1573.5,886.9 1575.5,887.8 1577.5,888.7 1579.5,889.6 1581.5,890.4 1583.5,891.3 1585.5,892.2 1587.5,893.1 1589.5,894.0 1591.5,894.9 1593.5,895.7 1595.5,896.6 1597.5,897.5 1599.5,898.4 1601.5,899.2 1603.5,900.1 1605.5,901.0 1607.5,901.8 1609.5,902.7 1611.5,903.6 1613.5,904.4 1615.5,905.3 1617.5,906.1 1619.5,907.0 1621.5,907.9 1623.5,908.7 1625.5,909.6 1627.5,910.4 1629.5,911.3 1631.5,912.1 1633.5,913.0 1635.5,913.8 1637.5,914.6 1639.5,915.5 1641.5,916.3 1643.5,917.2 1645.5,918.0 1647.5,918.8 1649.5,919.7 1651.5,920.5 1653.5,921.3 1655.5,922.2 1657.5,923.0 1659.5,923.8 1661.5,924.7 1663.5,925.5 1665.5,926.3 1667.5,927.1 1669.5,928.0 1671.5,928.8 1673.5,929.6 1675.5,930.4 1677.5,931.3 1679.5,932.1 1681.5,932.9 1683.5,933.7 1685.5,934.5 1687.5,935.3 1689.5,936.1 1691.5,937.0 1693.5,937.8 1695.5,938.6 1697.5,939.4 1699.5,940.2 1701.5,941.0 1703.5,941.8 1705.5,942.6 1707.5,943.4 1709.5,944.2 1711.5,945.0 1713.5,945.8 1715.5,946.6 1717.5,947.4 1719.5,948.2 1721.5,949.0 1723.5,949.8 1725.5,950.6 1727.5,951.4 1729.5,952.2 1731.5,953.0 1733.5,953.8 1735.5,954.6 1737.5,955.4 1739.5,956.2 1741.5,957.0 1743.5,957.8 1745.5,958.5 1747.5,959.3 1749.5,960.1 1751.5,960.9 1753.5,961.7 1755.5,962.5 1757.5,963.3 1759.5,964.0 1761.5,964.8 1763.5,965.6 1765.5,966.4 1767.5,967.2 1769.5,968.0 1771.5,968.7 1773.5,969.5 1775.5,970.3 1777.5,971.1 1779.5,971.8 1781.5,972.6 1783.5,973.4 1785.5,974.2 1787.5,974.9 1789.5,975.7 1791.5,976.5 1793.5,977.3 1795.5,978.0 1797.5,978.8 1799.5,979.6 1801.5,980.4 1803.5,981.1 1805.5,981.9 1807.5,982.7 1809.5,983.4 1811.5,984.2 1813.5,985.0 1815.5,985.7 1817.5,986.5 1819.5,987.3 1821.5,988.0 1823.5,988.8 1825.5,989.6 1827.5,990.3 1829.5,991.1 1831.5,991.9 1833.5,992.6 1835.5,993.4 1837.5,994.2 1839.5,994.9 1841.5,995.7 1843.5,996.4 1845.5,997.2 1847.5,998.0 1849.5,998.7 1851.5,999.5 1853.5,1000.2 1855.5,1001.0 1857.5,1001.8 1859.5,1002.5 1861.5,1003.3 1863.5,1004.0 1865.5,1004.8 1867.5,1005.5 1869.5,1006.3 1871.5,1007.1 1873.5,1007.8 1875.5,1008.6 1877.5,1009.3 1879.5,1010.1 1881.5,1010.8 1883.5,1011.6 1885.5,1012.3 1887.5,1013.1 1889.5,1013.8 1891.5,1014.6 1893.5,1015.3 1895.5,1016.1 1897.5,1016.9 1899.5,1017.6 1901.5,1018.4 1903.5,1019.1 1905.5,1019.9 1907.5,1020.6 1909.5,1021.4 1911.5,1022.1 1913.5,1022.9 1915.5,1023.6 1917.5,1024.4 1919.5,1025.1 1921.5,1025.8 1923.5,1026.6 1925.5,1027.3 1927.5,1028.1 1929.5,1028.8 1931.5,1029.6 1933.5,1030.3 1935.5,1031.1 1937.5,1031.8 1939.5,1032.6 1941.5,1033.3 1943.5,1034.1 1945.5,1034.8 1947.5,1035.6 1949.5,1036.3 1951.5,1037.0 1953.5,1037.8 1955.5,1038.5 1957.5,1039.3 1959.5,1040.0 1961.5,1040.8 1963.5,1041.5 1965.5,1042.3 1967.5,1043.0 1969.5,1043.7 1971.5,1044.5 1973.5,1045.2 1975.5,1046.0 1977.5,1046.7 1979.5,1047.4 1981.5,1048.2 1983.5,1048.9 1985.5,1049.7 1987.5,1050.4 1989.5,1051.2 1991.5,1051.9 1993.5,1052.6 1995.5,1053.4 1997.5,1054.1 1999.5,1054.9 2001.5,1055.6 2003.5,1056.3 2005.5,1057.1 2007.5,1057.8 2009.5,1058.6 2011.5,1059.3 2013.5,1060.0 2015.5,1060.8 2017.5,1061.5 2019.5,1062.2 2021.5,1063.0 2023.5,1063.7 2025.5,1064.5 2027.5,1065.2 2029.5,1065.9 2031.5,1066.7 2033.5,1067.4 2035.5,1068.2 2037.5,1068.9 2039.5,1069.6 2041.5,1070.4 2043.5,1071.1 2045.5,1071.8 2047.5,1072.6 2049.5,1073.3 2051.5,1074.0 2053.5,1074.8 2055.5,1075.5 2057.5,1076.3 2059.5,1077.0 2061.5,1077.7 2063.5,1078.5 2065.5,1079.2 2067.5,1079.9 2069.5,1080.7 2071.5,1081.4 2073.5,1082.1 2075.5,1082.9 2077.5,1083.6 2079.5,1084.3 2081.5,1085.1 2083.5,1085.8 2085.5,1086.6 2087.5,1087.3 2089.5,1088.0 2091.5,1088.8 2093.5,1089.5 2095.5,1090.2 2097.5,1091.0 2099.5,1091.7 2101.5,1092.4 2103.5,1093.2 2105.5,1093.9 2107.5,1094.6 2109.5,1095.4 2111.5,1096.1 2113.5,1096.8 2115.5,1097.6 2117.5,1098.3 2119.5,1099.0 2121.5,1099.8 2123.5,1100.5 2125.5,1101.2 2127.5,1102.0 2129.5,1102.7 2131.5,1103.4 2133.5,1104.2 2135.5,1104.9 2137.5,1105.6 2139.5,1106.4 2141.5,1107.1 2143.5,1107.8 2145.5,1108.6 2147.5,1108.8 2149.5,1108.8" fill="none" stroke="#000" stroke-width="5.2" stroke-linejoin="round" stroke-miterlimit="3" stroke-linecap="round"/>
<line x1="736.2" y1="111.2" x2="736.2" y2="128.2" stroke="#000" stroke-width="4" stroke-linecap="butt"/>
<line x1="736.2" y1="443.5" x2="736.2" y2="426.5" stroke="#000" stroke-width="4" stroke-linecap="butt"/>
<line x1="802.4" y1="111.2" x2="802.4" y2="140.2" stroke="#000" stroke-width="4" stroke-linecap="butt"/>
<line x1="802.4" y1="443.5" x2="802.4" y2="414.5" stroke="#000" stroke-width="4" stroke-linecap="butt"/>
<line x1="868.5" y1="111.2" x2="868.5" y2="128.2" stroke="#000" stroke-width="4" stroke-linecap="butt"/>
<line x1="868.5" y1="443.5" x2="868.5" y2="426.5" stroke="#000" stroke-width="4" stroke-linecap="butt"/>
<line x1="934.7" y1="111.2" x2="934.7" y2="140.2" stroke="#000" stroke-width="4" stroke-linecap="butt"/>
<line x1="934.7" y1="443.5" x2="934.7" y2="414.5" stroke="#000" stroke-width="4" stroke-linecap="butt"/>
<line x1="1000.9" y1="111.2" x2="1000.9" y2="128.2" stroke="#000" stroke-width="4" stroke-linecap="butt"/>
<line x1="1000.9" y1="443.5" x2="1000.9" y2="426.5" stroke="#000" stroke-width="4" stroke-linecap="butt"/>
<line x1="1067.1" y1="111.2" x2="1067.1" y2="140.2" stroke="#000" stroke-width="4" stroke-linecap="butt"/>
<line x1="1067.1" y1="443.5" x2="1067.1" y2="414.5" stroke="#000" stroke-width="4" stroke-linecap="butt"/>
<line x1="1133.3" y1="111.2" x2="1133.3" y2="128.2" stroke="#000" stroke-width="4" stroke-linecap="butt"/>
<line x1="1133.3" y1="443.5" x2="1133.3" y2="426.5" stroke="#000" stroke-width="4" stroke-linecap="butt"/>
<line x1="669.2" y1="122.2" x2="699.2" y2="122.2" stroke="#000" stroke-width="4" stroke-linecap="butt"/>
<line x1="1200.6" y1="122.2" x2="1170.6" y2="122.2" stroke="#000" stroke-width="4" stroke-linecap="butt"/>
<line x1="669.2" y1="261.5" x2="699.2" y2="261.5" stroke="#000" stroke-width="4" stroke-linecap="butt"/>
<line x1="1200.6" y1="261.5" x2="1170.6" y2="261.5" stroke="#000" stroke-width="4" stroke-linecap="butt"/>
<line x1="669.2" y1="400.8" x2="699.2" y2="400.8" stroke="#000" stroke-width="4" stroke-linecap="butt"/>
<line x1="1200.6" y1="400.8" x2="1170.6" y2="400.8" stroke="#000" stroke-width="4" stroke-linecap="butt"/>
<rect x="669.2" y="111.2" width="531.3999999999999" height="332.3" fill="none" stroke="#000" stroke-width="4.4"/>
<line x1="1703.0" y1="99.5" x2="1703.0" y2="116.5" stroke="#000" stroke-width="4" stroke-linecap="butt"/>
<line x1="1703.0" y1="429.7" x2="1703.0" y2="412.7" stroke="#000" stroke-width="4" stroke-linecap="butt"/>
<line x1="1769.0" y1="99.5" x2="1769.0" y2="128.5" stroke="#000" stroke-width="4" stroke-linecap="butt"/>
<line x1="1769.0" y1="429.7" x2="1769.0" y2="400.7" stroke="#000" stroke-width="4" stroke-linecap="butt"/>
<line x1="1835.0" y1="99.5" x2="1835.0" y2="116.5" stroke="#000" stroke-width="4" stroke-linecap="butt"/>
<line x1="1835.0" y1="429.7" x2="1835.0" y2="412.7" stroke="#000" stroke-width="4" stroke-linecap="butt"/>
<line x1="1901.0" y1="99.5" x2="1901.0" y2="128.5" stroke="#000" stroke-width="4" stroke-linecap="butt"/>
<line x1="1901.0" y1="429.7" x2="1901.0" y2="400.7" stroke="#000" stroke-width="4" stroke-linecap="butt"/>
<line x1="1967.0" y1="99.5" x2="1967.0" y2="116.5" stroke="#000" stroke-width="4" stroke-linecap="butt"/>
<line x1="1967.0" y1="429.7" x2="1967.0" y2="412.7" stroke="#000" stroke-width="4" stroke-linecap="butt"/>
<line x1="2033.0" y1="99.5" x2="2033.0" y2="128.5" stroke="#000" stroke-width="4" stroke-linecap="butt"/>
<line x1="2033.0" y1="429.7" x2="2033.0" y2="400.7" stroke="#000" stroke-width="4" stroke-linecap="butt"/>
<line x1="2099.0" y1="99.5" x2="2099.0" y2="116.5" stroke="#000" stroke-width="4" stroke-linecap="butt"/>
<line x1="2099.0" y1="429.7" x2="2099.0" y2="412.7" stroke="#000" stroke-width="4" stroke-linecap="butt"/>
<line x1="1635.0" y1="110.7" x2="1665.0" y2="110.7" stroke="#000" stroke-width="4" stroke-linecap="butt"/>
<line x1="2165.0" y1="110.7" x2="2135.0" y2="110.7" stroke="#000" stroke-width="4" stroke-linecap="butt"/>
<line x1="1635.0" y1="250.0" x2="1665.0" y2="250.0" stroke="#000" stroke-width="4" stroke-linecap="butt"/>
<line x1="2165.0" y1="250.0" x2="2135.0" y2="250.0" stroke="#000" stroke-width="4" stroke-linecap="butt"/>
<line x1="1635.0" y1="389.7" x2="1665.0" y2="389.7" stroke="#000" stroke-width="4" stroke-linecap="butt"/>
<line x1="2165.0" y1="389.7" x2="2135.0" y2="389.7" stroke="#000" stroke-width="4" stroke-linecap="butt"/>
<rect x="1635.0" y="99.5" width="530.0" height="330.2" fill="none" stroke="#000" stroke-width="4.4"/>
<polyline points="671.5,441.0 671.5,139.2 672.5,139.2 672.9,149.2 673.3,128.6 673.7,139.2 674.1,129.1 674.5,140.4 674.9,154.4 675.3,154.4 675.7,148.4 676.1,155.2 676.5,146.3 676.9,164.7 677.3,155.2 677.7,149.9 678.1,144.3 678.5,156.8 678.9,146.3 679.3,162.0 679.7,155.2 680.1,152.1 680.5,162.9 680.9,152.1 681.3,149.2 681.7,155.2 682.1,166.6 682.5,149.2 682.9,160.2 683.3,152.1 683.7,165.6 684.1,167.6 684.5,156.0 684.9,172.7 685.3,162.0 685.7,152.9 686.1,161.1 686.5,163.8 686.9,165.6 687.3,164.7 687.7,149.9 688.1,167.6 688.5,160.2 688.9,164.7 689.3,158.5 689.7,166.6 690.1,163.8 690.5,159.3 690.9,163.8 691.3,155.2 691.7,165.6 692.1,174.8 692.5,164.7 692.9,154.4 693.3,173.7 693.7,156.8 694.1,169.5 694.5,168.5 694.9,168.5 695.3,156.0 695.7,162.0 696.1,167.6 696.5,168.5 696.9,161.1 697.3,180.6 697.7,175.9 698.1,172.7 698.5,166.6 698.9,169.5 699.3,161.1 699.7,153.7 700.1,184.3 700.5,154.4 700.9,157.7 701.3,180.6 701.7,170.6 702.1,161.1 702.5,154.4 702.9,170.6 703.3,172.7 703.7,169.5 704.1,175.9 704.5,158.5 704.9,169.5 705.3,156.8 705.7,165.6 706.1,174.8 706.5,166.6 706.9,178.2 707.3,166.6 707.7,173.7 708.1,155.2 708.5,173.7 708.9,164.7 709.3,153.7 709.7,165.6 710.1,158.5 710.5,195.6 710.9,168.5 711.3,185.6 711.7,169.5 712.1,164.7 712.5,161.1 712.9,171.6 713.3,179.4 713.7,174.8 714.1,180.6 714.5,184.3 714.9,171.6 715.3,177.1 715.7,183.1 716.1,181.8 716.5,168.5 716.9,169.5 717.3,173.7 717.7,174.8 718.1,177.1 718.5,180.6 718.9,178.2 719.3,165.6 719.7,178.2 720.1,166.6 720.5,170.6 720.9,177.1 721.3,172.7 721.7,178.2 722.1,156.8 722.5,192.6 722.9,161.1 723.3,172.7 723.7,174.8 724.1,172.7 724.5,172.7 724.9,194.1 725.3,183.1 725.7,185.6 726.1,178.2 726.5,177.1 726.9,172.7 727.3,175.9 727.7,179.4 728.1,175.9 728.5,177.1 728.9,168.5 729.3,174.8 729.7,184.3 730.1,183.1 730.5,185.6 730.9,174.8 731.3,188.3 731.7,171.6 732.1,180.6 732.5,171.6 732.9,179.4 733.3,178.2 733.7,169.5 734.1,164.7 734.5,222.6 734.9,179.4 735.3,179.4 735.7,188.3 736.1,185.6 736.5,184.3 736.9,183.1 737.3,185.6 737.7,187.0 738.1,171.6 738.5,197.2 738.9,171.6 739.3,197.2 739.7,178.2 740.1,183.1 740.5,188.3 740.9,180.6 741.3,200.5 741.7,188.3 742.1,189.7 742.5,171.6 742.9,170.6 743.3,180.6 743.7,191.2 744.1,172.7 744.5,202.2 744.9,194.1 745.3,179.4 745.7,189.7 746.1,172.7 746.5,195.6 746.9,194.1 747.3,191.2 747.7,185.6 748.1,168.5 748.5,184.3 748.9,198.8 749.3,197.2 749.7,192.6 750.1,195.6 750.5,185.6 750.9,172.7 751.3,192.6 751.7,188.3 752.1,200.5 752.5,181.8 752.9,178.2 753.3,197.2 753.7,192.6 754.1,198.8 754.5,197.2 754.9,179.4 755.3,195.6 755.7,188.3 756.1,204.0 756.5,204.0 756.9,188.3 757.3,179.4 757.7,192.6 758.1,191.2 758.5,188.3 758.9,188.3 759.3,188.3 759.7,204.0 760.1,181.8 760.5,198.8 760.9,192.6 761.3,202.2 761.7,204.0 762.1,198.8 762.5,188.3 762.9,188.3 763.3,192.6 763.7,177.1 764.1,200.5 764.5,194.1 764.9,195.6 765.3,188.3 765.7,181.8 766.1,200.5 766.5,200.5 766.9,202.2 767.3,192.6 767.7,211.5 768.1,217.9 768.5,198.8 768.9,184.3 769.3,191.2 769.7,198.8 770.1,204.0 770.5,189.7 770.9,195.6 771.3,209.6 771.7,211.5 772.1,189.7 772.5,178.2 772.9,197.2 773.3,197.2 773.7,189.7 774.1,197.2 774.5,200.5 774.9,194.1 775.3,184.3 775.7,205.8 776.1,220.2 776.5,213.6 776.9,194.1 777.3,202.2 777.7,197.2 778.1,188.3 778.5,204.0 778.9,207.6 779.3,207.6 779.7,197.2 780.1,189.7 780.5,191.2 780.9,198.8 781.3,211.5 781.7,217.9 782.1,211.5 782.5,209.6 782.9,204.0 783.3,195.6 783.7,200.5 784.1,202.2 784.5,209.6 784.9,204.0 785.3,207.6 785.7,205.8 786.1,213.6 786.5,202.2 786.9,204.0 787.3,217.9 787.7,197.2 788.1,213.6 788.5,211.5 788.9,246.0 789.3,215.7 789.7,187.0 790.1,191.2 790.5,194.1 790.9,197.2 791.3,236.1 791.7,215.7 792.1,230.3 792.5,209.6 792.9,207.6 793.3,205.8 793.7,207.6 794.1,192.6 794.5,217.9 794.9,207.6 795.3,194.1 795.7,215.7 796.1,207.6 796.5,217.9 796.9,200.5 797.3,215.7 797.7,211.5 798.1,217.9 798.5,215.7 798.9,213.6 799.3,217.9 799.7,204.0 800.1,207.6 800.5,222.6 800.9,222.6 801.3,209.6 801.7,205.8 802.1,204.0 802.5,211.5 802.9,198.8 803.3,209.6 803.7,197.2 804.1,213.6 804.5,220.2 804.9,211.5 805.3,213.6 805.7,215.7 806.1,230.3 806.5,230.3 806.9,213.6 807.3,222.6 807.7,217.9 808.1,222.6 808.5,236.1 808.9,209.6 809.3,215.7 809.7,236.1 810.1,204.0 810.5,220.2 810.9,197.2 811.3,222.6 811.7,204.0 812.1,230.3 812.5,217.9 812.9,239.2 813.3,220.2 813.7,230.3 814.1,222.6 814.5,204.0 814.9,225.1 815.3,225.1 815.7,205.8 816.1,227.6 816.5,220.2 816.9,205.8 817.3,207.6 817.7,209.6 818.1,215.7 818.5,233.2 818.9,222.6 819.3,227.6 819.7,220.2 820.1,197.2 820.5,217.9 820.9,225.1 821.3,242.5 821.7,236.1 822.1,242.5 822.5,207.6 822.9,239.2 823.3,220.2 823.7,227.6 824.1,213.6 824.5,222.6 824.9,225.1 825.3,200.5 825.7,217.9 826.1,215.7 826.5,217.9 826.9,227.6 827.3,239.2 827.7,227.6 828.1,230.3 828.5,207.6 828.9,209.6 829.3,257.7 829.7,220.2 830.1,236.1 830.5,217.9 830.9,220.2 831.3,209.6 831.7,233.2 832.1,195.6 832.5,213.6 832.9,200.5 833.3,225.1 833.7,220.2 834.1,227.6 834.5,215.7 834.9,233.2 835.3,230.3 835.7,236.1 836.1,253.5 836.5,220.2 836.9,192.6 837.3,236.1 837.7,233.2 838.1,236.1 838.5,209.6 838.9,225.1 839.3,220.2 839.7,213.6 840.1,242.5 840.5,233.2 840.9,227.6 841.3,207.6 841.7,204.0 842.1,220.2 842.5,213.6 842.9,220.2 843.3,225.1 843.7,233.2 844.1,233.2 844.5,215.7 844.9,233.2 845.3,227.6 845.7,213.6 846.1,205.8 846.5,233.2 846.9,233.2 847.3,227.6 847.7,217.9 848.1,211.5 848.5,215.7 848.9,236.1 849.3,236.1 849.7,242.5 850.1,236.1 850.5,230.3 850.9,215.7 851.3,236.1 851.7,225.1 852.1,227.6 852.5,239.2 852.9,220.2 853.3,246.0 853.7,222.6 854.1,217.9 854.5,215.7 854.9,239.2 855.3,230.3 855.7,220.2 856.1,253.5 856.5,225.1 856.9,272.3 857.3,246.0 857.7,249.6 858.1,249.6 858.5,262.2 858.9,236.1 859.3,217.9 859.7,257.7 860.1,227.6 860.5,233.2 860.9,230.3 861.3,262.2 861.7,230.3 862.1,272.3 862.5,253.5 862.9,242.5 863.3,242.5 863.7,257.7 864.1,225.1 864.5,220.2 864.9,239.2 865.3,253.5 865.7,246.0 866.1,249.6 866.5,267.1 866.9,225.1 867.3,236.1 867.7,233.2 868.1,211.5 868.5,225.1 868.9,233.2 869.3,239.2 869.7,233.2 870.1,249.6 870.5,253.5 870.9,249.6 871.3,284.5 871.7,239.2 872.1,262.2 872.5,227.6 872.9,249.6 873.3,249.6 873.7,257.7 874.1,262.2 874.5,233.2 874.9,230.3 875.3,257.7 875.7,246.0 876.1,242.5 876.5,222.6 876.9,233.2 877.3,257.7 877.7,246.0 878.1,262.2 878.5,225.1 878.9,227.6 879.3,239.2 879.7,253.5 880.1,246.0 880.5,233.2 880.9,249.6 881.3,257.7 881.7,233.2 882.1,236.1 882.5,239.2 882.9,225.1 883.3,230.3 883.7,249.6 884.1,239.2 884.5,222.6 884.9,230.3 885.3,239.2 885.7,284.5 886.1,236.1 886.5,225.1 886.9,249.6 887.3,233.2 887.7,211.5 888.1,230.3 888.5,222.6 888.9,225.1 889.3,249.6 889.7,246.0 890.1,239.2 890.5,242.5 890.9,249.6 891.3,257.7 891.7,267.1 892.1,225.1 892.5,236.1 892.9,291.6 893.3,239.2 893.7,222.6 894.1,262.2 894.5,257.7 894.9,262.2 895.3,257.7 895.7,253.5 896.1,272.3 896.5,230.3 896.9,262.2 897.3,233.2 897.7,242.5 898.1,267.1 898.5,262.2 898.9,267.1 899.3,262.2 899.7,278.1 900.1,233.2 900.5,262.2 900.9,225.1 901.3,278.1 901.7,253.5 902.1,242.5 902.5,253.5 902.9,249.6 903.3,239.2 903.7,262.2 904.1,272.3 904.5,233.2 904.9,262.2 905.3,242.5 905.7,267.1 906.1,267.1 906.5,299.7 906.9,246.0 907.3,257.7 907.7,242.5 908.1,220.2 908.5,246.0 908.9,262.2 909.3,249.6 909.7,257.7 910.1,249.6 910.5,246.0 910.9,320.1 911.3,249.6 911.7,284.5 912.1,262.2 912.5,236.1 912.9,267.1 913.3,267.1 913.7,291.6 914.1,257.7 914.5,253.5 914.9,246.0 915.3,246.0 915.7,249.6 916.1,262.2 916.5,239.2 916.9,239.2 917.3,291.6 917.7,267.1 918.1,253.5 918.5,242.5 918.9,291.6 919.3,291.6 919.7,246.0 920.1,242.5 920.5,249.6 920.9,278.1 921.3,278.1 921.7,262.2 922.1,242.5 922.5,253.5 922.9,242.5 923.3,262.2 923.7,262.2 924.1,299.7 924.5,267.1 924.9,257.7 925.3,239.2 925.7,246.0 926.1,278.1 926.5,262.2 926.9,257.7 927.3,246.0 927.7,284.5 928.1,262.2 928.5,267.1 928.9,299.7 929.3,267.1 929.7,249.6 930.1,272.3 930.5,278.1 930.9,333.6 931.3,291.6 931.7,257.7 932.1,278.1 932.5,262.2 932.9,249.6 933.3,253.5 933.7,272.3 934.1,267.1 934.5,253.5 934.9,249.6 935.3,272.3 935.7,249.6 936.1,257.7 936.5,262.2 936.9,249.6 937.3,284.5 937.7,278.1 938.1,257.7 938.5,278.1 938.9,272.3 939.3,272.3 939.7,309.0 940.1,272.3 940.5,253.5 940.9,284.5 941.3,257.7 941.7,284.5 942.1,272.3 942.5,249.6 942.9,262.2 943.3,333.6 943.7,267.1 944.1,262.2 944.5,320.1 944.9,299.7 945.3,267.1 945.7,225.1 946.1,284.5 946.5,375.6 946.9,257.7 947.3,249.6 947.7,267.1 948.1,242.5 948.5,257.7 948.9,284.5 949.3,320.1 949.7,284.5 950.1,272.3 950.5,267.1 950.9,320.1 951.3,284.5 951.7,249.6 952.1,267.1 952.5,291.6 952.9,267.1 953.3,309.0 953.7,284.5 954.1,267.1 954.5,291.6 954.9,257.7 955.3,272.3 955.7,284.5 956.1,262.2 956.5,257.7 956.9,291.6 957.3,299.7 957.7,284.5 958.1,267.1 958.5,284.5 958.9,253.5 959.3,284.5 959.7,242.5 960.1,278.1 960.5,291.6 960.9,246.0 961.3,262.2 961.7,351.0 962.1,278.1 962.5,262.2 962.9,299.7 963.3,291.6 963.7,299.7 964.1,299.7 964.5,272.3 964.9,272.3 965.3,309.0 965.7,278.1 966.1,262.2 966.5,320.1 966.9,262.2 967.3,309.0 967.7,257.7 968.1,291.6 968.5,320.1 968.9,299.7 969.3,272.3 969.7,291.6 970.1,278.1 970.5,291.6 970.9,284.5 971.3,309.0 971.7,291.6 972.1,309.0 972.5,291.6 972.9,267.1 973.3,320.1 973.7,272.3 974.1,299.7 974.5,309.0 974.9,253.5 975.3,267.1 975.7,239.2 976.1,309.0 976.5,272.3 976.9,320.1 977.3,309.0 977.7,278.1 978.1,299.7 978.5,299.7 978.9,320.1 979.3,272.3 979.7,291.6 980.1,351.0 980.5,272.3 980.9,272.3 981.3,284.5 981.7,299.7 982.1,299.7 982.5,291.6 982.9,299.7 983.3,278.1 983.7,320.1 984.1,267.1 984.5,291.6 984.9,278.1 985.3,417.6 985.7,333.6 986.1,267.1 986.5,284.5 986.9,351.0 987.3,299.7 987.7,272.3 988.1,320.1 988.5,278.1 988.9,284.5 989.3,291.6 989.7,262.2 990.1,291.6 990.5,272.3 990.9,227.6 991.3,284.5 991.7,291.6 992.1,278.1 992.5,278.1 992.9,309.0 993.3,284.5 993.7,291.6 994.1,272.3 994.5,299.7 994.9,299.7 995.3,278.1 995.7,320.1 996.1,262.2 996.5,284.5 996.9,309.0 997.3,284.5 997.7,284.5 998.1,291.6 998.5,299.7 998.9,299.7 999.3,291.6 999.7,309.0 1000.1,309.0 1000.5,320.1 1000.9,291.6 1001.3,278.1 1001.7,299.7 1002.1,351.0 1002.5,309.0 1002.9,291.6 1003.3,284.5 1003.7,291.6 1004.1,272.3 1004.5,291.6 1004.9,267.1 1005.3,309.0 1005.7,299.7 1006.1,278.1 1006.5,333.6 1006.9,320.1 1007.3,291.6 1007.7,284.5 1008.1,309.0 1008.5,299.7 1008.9,267.1 1009.3,309.0 1009.7,299.7 1010.1,278.1 1010.5,299.7 1010.9,291.6 1011.3,278.1 1011.7,291.6 1012.1,267.1 1012.5,284.5 1012.9,299.7 1013.3,309.0 1013.7,351.0 1014.1,291.6 1014.5,278.1 1014.9,257.7 1015.3,309.0 1015.7,267.1 1016.1,309.0 1016.5,320.1 1016.9,291.6 1017.3,299.7 1017.7,272.3 1018.1,272.3 1018.5,309.0 1018.9,272.3 1019.3,278.1 1019.7,333.6 1020.1,284.5 1020.5,333.6 1020.9,299.7 1021.3,278.1 1021.7,320.1 1022.1,267.1 1022.5,309.0 1022.9,291.6 1023.3,309.0 1023.7,278.1 1024.1,249.6 1024.5,333.6 1024.9,262.2 1025.3,375.6 1025.7,333.6 1026.1,333.6 1026.5,309.0 1026.9,320.1 1027.3,278.1 1027.7,320.1 1028.1,333.6 1028.5,375.6 1028.9,309.0 1029.3,291.6 1029.7,320.1 1030.1,320.1 1030.5,320.1 1030.9,351.0 1031.3,333.6 1031.7,291.6 1032.1,309.0 1032.5,262.2 1032.9,272.3 1033.3,320.1 1033.7,351.0 1034.1,320.1 1034.5,309.0 1034.9,351.0 1035.3,272.3 1035.7,309.0 1036.1,309.0 1036.5,291.6 1036.9,309.0 1037.3,333.6 1037.7,333.6 1038.1,299.7 1038.5,351.0 1038.9,309.0 1039.3,320.1 1039.7,333.6 1040.1,284.5 1040.5,299.7 1040.9,284.5 1041.3,351.0 1041.7,309.0 1042.1,291.6 1042.5,309.0 1042.9,351.0 1043.3,272.3 1043.7,291.6 1044.1,351.0 1044.5,284.5 1044.9,375.6 1045.3,417.6 1045.7,333.6 1046.1,333.6 1046.5,351.0 1046.9,309.0 1047.3,333.6 1047.7,351.0 1048.1,291.6 1048.5,278.1 1048.9,299.7 1049.3,333.6 1049.7,291.6 1050.1,375.6 1050.5,309.0 1050.9,309.0 1051.3,291.6 1051.7,291.6 1052.1,320.1 1052.5,299.7 1052.9,291.6 1053.3,417.6 1053.7,333.6 1054.1,375.6 1054.5,351.0 1054.9,333.6 1055.3,417.6 1055.7,309.0 1056.1,284.5 1056.5,320.1 1056.9,291.6 1057.3,375.6 1057.7,320.1 1058.1,333.6 1058.5,333.6 1058.9,309.0 1059.3,333.6 1059.7,351.0 1060.1,320.1 1060.5,309.0 1060.9,291.6 1061.3,351.0 1061.7,333.6 1062.1,351.0 1062.5,291.6 1062.9,309.0 1063.3,291.6 1063.7,299.7 1064.1,333.6 1064.5,299.7 1064.9,299.7 1065.3,351.0 1065.7,299.7 1066.1,309.0 1066.5,291.6 1066.9,351.0 1067.3,309.0 1067.7,309.0 1068.1,333.6 1068.5,351.0 1068.9,351.0 1069.3,291.6 1069.7,320.1 1070.1,309.0 1070.5,291.6 1070.9,333.6 1071.3,333.6 1071.7,375.6 1072.1,320.1 1072.5,351.0 1072.9,333.6 1073.3,333.6 1073.7,351.0 1074.1,291.6 1074.5,320.1 1074.9,320.1 1075.3,320.1 1075.7,417.6 1076.1,299.7 1076.5,309.0 1076.9,299.7 1077.3,333.6 1077.7,333.6 1078.1,291.6 1078.5,333.6 1078.9,351.0 1079.3,375.6 1079.7,333.6 1080.1,351.0 1080.5,333.6 1080.9,417.6 1081.3,351.0 1081.7,351.0 1082.1,299.7 1082.5,320.1 1082.9,333.6 1083.3,441.5 1083.7,299.7 1084.1,417.6 1084.5,309.0 1084.9,375.6 1085.3,375.6 1085.7,375.6 1086.1,375.6 1086.5,320.1 1086.9,375.6 1087.3,375.6 1087.7,309.0 1088.1,320.1 1088.5,309.0 1088.9,333.6 1089.3,320.1 1089.7,417.6 1090.1,299.7 1090.5,375.6 1090.9,351.0 1091.3,291.6 1091.7,417.6 1092.1,375.6 1092.5,351.0 1092.9,375.6 1093.3,291.6 1093.7,291.6 1094.1,351.0 1094.5,375.6 1094.9,351.0 1095.3,351.0 1095.7,375.6 1096.1,299.7 1096.5,375.6 1096.9,375.6 1097.3,284.5 1097.7,351.0 1098.1,299.7 1098.5,309.0 1098.9,320.1 1099.3,351.0 1099.7,320.1 1100.1,351.0 1100.5,351.0 1100.9,333.6 1101.3,320.1 1101.7,320.1 1102.1,417.6 1102.5,351.0 1102.9,333.6 1103.3,299.7 1103.7,351.0 1104.1,284.5 1104.5,351.0 1104.9,351.0 1105.3,375.6 1105.7,351.0 1106.1,333.6 1106.5,375.6 1106.9,320.1 1107.3,333.6 1107.7,299.7 1108.1,333.6 1108.5,333.6 1108.9,375.6 1109.3,320.1 1109.7,320.1 1110.1,351.0 1110.5,320.1 1110.9,351.0 1111.3,351.0 1111.7,320.1 1112.1,351.0 1112.5,417.6 1112.9,320.1 1113.3,299.7 1113.7,351.0 1114.1,375.6 1114.5,333.6 1114.9,351.0 1115.3,320.1 1115.7,351.0 1116.1,417.6 1116.5,375.6 1116.9,309.0 1117.3,375.6 1117.7,375.6 1118.1,320.1 1118.5,375.6 1118.9,417.6 1119.3,333.6 1119.7,299.7 1120.1,320.1 1120.5,291.6 1120.9,299.7 1121.3,417.6 1121.7,351.0 1122.1,351.0 1122.5,309.0 1122.9,320.1 1123.3,309.0 1123.7,309.0 1124.1,375.6 1124.5,333.6 1124.9,375.6 1125.3,320.1 1125.7,417.6 1126.1,351.0 1126.5,375.6 1126.9,333.6 1127.3,351.0 1127.7,351.0 1128.1,375.6 1128.5,333.6 1128.9,320.1 1129.3,375.6 1129.7,375.6 1130.1,351.0 1130.5,333.6 1130.9,299.7 1131.3,309.0 1131.7,417.6 1132.1,351.0 1132.5,320.1 1132.9,333.6 1133.3,375.6 1133.7,351.0 1134.1,375.6 1134.5,375.6 1134.9,375.6 1135.3,351.0 1135.7,351.0 1136.1,375.6 1136.5,375.6 1136.9,309.0 1137.3,441.5 1137.7,351.0 1138.1,320.1 1138.5,441.5 1138.9,351.0 1139.3,417.6 1139.7,309.0 1140.1,417.6 1140.5,441.5 1140.9,351.0 1141.3,351.0 1141.7,417.6 1142.1,351.0 1142.5,375.6 1142.9,375.6 1143.3,333.6 1143.7,375.6 1144.1,320.1 1144.5,309.0 1144.9,417.6 1145.3,375.6 1145.7,333.6 1146.1,417.6 1146.5,351.0 1146.9,333.6 1147.3,320.1 1147.7,417.6 1148.1,333.6 1148.5,351.0 1148.9,351.0 1149.3,333.6 1149.7,417.6 1150.1,417.6 1150.5,333.6 1150.9,320.1 1151.3,333.6 1151.7,333.6 1152.1,375.6 1152.5,417.6 1152.9,375.6 1153.3,309.0 1153.7,375.6 1154.1,333.6 1154.5,320.1 1154.9,351.0 1155.3,417.6 1155.7,441.5 1156.1,375.6 1156.5,351.0 1156.9,375.6 1157.3,441.5 1157.7,375.6 1158.1,375.6 1158.5,351.0 1158.9,375.6 1159.3,375.6 1159.7,417.6 1160.1,375.6 1160.5,351.0 1160.9,320.1 1161.3,375.6 1161.7,375.6 1162.1,351.0 1162.5,417.6 1162.9,417.6 1163.3,351.0 1163.7,351.0 1164.1,351.0 1164.5,441.5 1164.9,375.6 1165.3,351.0 1165.7,417.6 1166.1,351.0 1166.5,417.6 1166.9,351.0 1167.3,333.6 1167.7,417.6 1168.1,375.6 1168.5,375.6 1168.9,375.6 1169.3,375.6 1169.7,351.0 1170.1,417.6 1170.5,375.6 1170.9,351.0 1171.3,375.6 1171.7,333.6 1172.1,417.6 1172.5,351.0 1172.9,375.6 1173.3,375.6 1173.7,375.6 1174.1,417.6 1174.5,320.1 1174.9,375.6 1175.3,375.6 1175.7,333.6 1176.1,375.6 1176.5,375.6 1176.9,417.6 1177.3,333.6 1177.7,351.0 1178.1,417.6 1178.5,351.0 1178.9,417.6 1179.3,375.6 1179.7,375.6 1180.1,417.6 1180.5,375.6 1180.9,375.6 1181.3,320.1 1181.7,417.6 1182.1,351.0 1182.5,417.6 1182.9,375.6 1183.3,375.6 1183.7,375.6 1184.1,320.1 1184.5,417.6 1184.9,375.6 1185.3,375.6 1185.7,417.6 1186.1,417.6 1186.5,291.6 1186.9,375.6 1187.3,333.6 1187.7,441.5 1188.1,417.6 1188.5,351.0 1188.9,320.1 1189.3,333.6 1189.7,375.6 1190.1,441.5 1190.5,333.6 1190.9,333.6 1191.3,333.6 1191.7,333.6 1192.1,333.6 1192.5,417.6 1192.9,417.6 1193.3,417.6 1193.7,417.6 1194.1,417.6 1194.5,441.5 1194.9,441.5 1195.3,351.0 1195.7,441.5 1196.1,333.6 1196.5,375.6 1196.9,351.0 1197.3,417.6 1197.7,351.0 1198.1,375.6 1198.5,351.0" fill="none" stroke="#00c800" stroke-width="2.6" stroke-linejoin="round" stroke-miterlimit="3" />
<polyline points="1638.5,428.0 1638.5,106.1 1639.0,106.1 1639.3,110.8 1639.6,114.2 1639.9,125.1 1640.2,105.7 1640.5,110.0 1640.8,122.6 1641.1,129.9 1641.4,117.3 1641.7,114.6 1642.0,112.5 1642.3,127.2 1642.6,128.3 1642.9,119.6 1643.2,130.5 1643.5,122.1 1643.8,127.2 1644.1,131.6 1644.4,133.4 1644.7,140.3 1645.0,139.7 1645.3,127.2 1645.6,135.8 1645.9,141.0 1646.2,132.8 1646.5,133.4 1646.8,128.8 1647.1,148.1 1647.4,141.7 1647.7,131.6 1648.0,143.7 1648.3,137.1 1648.6,135.2 1648.9,134.0 1649.2,143.0 1649.5,155.3 1649.8,135.8 1650.1,136.4 1650.4,159.8 1650.7,145.2 1651.0,146.6 1651.3,148.9 1651.6,139.0 1651.9,137.1 1652.2,150.4 1652.5,138.3 1652.8,166.6 1653.1,148.1 1653.4,139.0 1653.7,145.9 1654.0,146.6 1654.3,141.0 1654.6,167.6 1654.9,158.0 1655.2,162.6 1655.5,159.8 1655.8,154.5 1656.1,148.1 1656.4,152.8 1656.7,158.9 1657.0,168.7 1657.3,160.7 1657.6,155.3 1657.9,158.0 1658.2,167.6 1658.5,160.7 1658.8,166.6 1659.1,153.7 1659.4,175.4 1659.7,170.8 1660.0,170.8 1660.3,165.5 1660.6,168.7 1660.9,169.7 1661.2,163.6 1661.5,170.8 1661.8,181.6 1662.1,183.0 1662.4,190.1 1662.7,181.6 1663.0,170.8 1663.3,167.6 1663.6,174.2 1663.9,181.6 1664.2,160.7 1664.5,174.2 1664.8,180.3 1665.1,179.1 1665.4,193.2 1665.7,177.8 1666.0,174.2 1666.3,190.1 1666.6,181.6 1666.9,171.9 1667.2,194.8 1667.5,179.1 1667.8,184.3 1668.1,171.9 1668.4,171.9 1668.7,173.1 1669.0,200.0 1669.3,184.3 1669.6,200.0 1669.9,200.0 1670.2,184.3 1670.5,201.8 1670.8,185.7 1671.1,181.6 1671.4,187.2 1671.7,188.6 1672.0,187.2 1672.3,177.8 1672.6,203.6 1672.9,183.0 1673.2,184.3 1673.5,180.3 1673.8,194.8 1674.1,193.2 1674.4,193.2 1674.7,179.1 1675.0,200.0 1675.3,188.6 1675.6,205.6 1675.9,196.5 1676.2,211.7 1676.5,185.7 1676.8,203.6 1677.1,170.8 1677.4,198.2 1677.7,207.5 1678.0,194.8 1678.3,207.5 1678.6,196.5 1678.9,216.2 1679.2,184.3 1679.5,213.9 1679.8,184.3 1680.1,209.6 1680.4,216.2 1680.7,209.6 1681.0,216.2 1681.3,200.0 1681.6,205.6 1681.9,201.8 1682.2,198.2 1682.5,196.5 1682.8,235.2 1683.1,213.9 1683.4,213.9 1683.7,207.5 1684.0,218.6 1684.3,221.1 1684.6,221.1 1684.9,218.6 1685.2,218.6 1685.5,211.7 1685.8,194.8 1686.1,218.6 1686.4,213.9 1686.7,209.6 1687.0,200.0 1687.3,232.1 1687.6,229.2 1687.9,226.3 1688.2,211.7 1688.5,218.6 1688.8,238.5 1689.1,232.1 1689.4,232.1 1689.7,223.6 1690.0,226.3 1690.3,242.0 1690.6,223.6 1690.9,218.6 1691.2,209.6 1691.5,229.2 1691.8,213.9 1692.1,226.3 1692.4,229.2 1692.7,238.5 1693.0,216.2 1693.3,223.6 1693.6,238.5 1693.9,229.2 1694.2,235.2 1694.5,218.6 1694.8,242.0 1695.1,226.3 1695.4,232.1 1695.7,238.5 1696.0,221.1 1696.3,235.2 1696.6,232.1 1696.9,221.1 1697.2,235.2 1697.5,218.6 1697.8,226.3 1698.1,229.2 1698.4,232.1 1698.7,242.0 1699.0,253.7 1699.3,242.0 1699.6,258.2 1699.9,232.1 1700.2,223.6 1700.5,226.3 1700.8,245.6 1701.1,221.1 1701.4,249.5 1701.7,226.3 1702.0,238.5 1702.3,235.2 1702.6,213.9 1702.9,249.5 1703.2,249.5 1703.5,242.0 1703.8,238.5 1704.1,232.1 1704.4,249.5 1704.7,253.7 1705.0,258.2 1705.3,238.5 1705.6,253.7 1705.9,235.2 1706.2,287.6 1706.5,242.0 1706.8,238.5 1707.1,253.7 1707.4,242.0 1707.7,221.1 1708.0,245.6 1708.3,253.7 1708.6,268.3 1708.9,295.7 1709.2,253.7 1709.5,263.1 1709.8,287.6 1710.1,242.0 1710.4,229.2 1710.7,238.5 1711.0,226.3 1711.3,249.5 1711.6,274.1 1711.9,235.2 1712.2,242.0 1712.5,242.0 1712.8,263.1 1713.1,245.6 1713.4,242.0 1713.7,268.3 1714.0,268.3 1714.3,287.6 1714.6,263.1 1714.9,258.2 1715.2,280.5 1715.5,245.6 1715.8,274.1 1716.1,287.6 1716.4,274.1 1716.7,280.5 1717.0,238.5 1717.3,249.5 1717.6,235.2 1717.9,268.3 1718.2,249.5 1718.5,258.2 1718.8,268.3 1719.1,274.1 1719.4,258.2 1719.7,274.1 1720.0,249.5 1720.3,280.5 1720.6,268.3 1720.9,287.6 1721.2,268.3 1721.5,295.7 1721.8,274.1 1722.1,274.1 1722.4,280.5 1722.7,258.2 1723.0,249.5 1723.3,268.3 1723.6,263.1 1723.9,263.1 1724.2,280.5 1724.5,274.1 1724.8,316.1 1725.1,295.7 1725.4,249.5 1725.7,316.1 1726.0,295.7 1726.3,268.3 1726.6,280.5 1726.9,274.1 1727.2,329.6 1727.5,305.0 1727.8,268.3 1728.1,263.1 1728.4,258.2 1728.7,287.6 1729.0,280.5 1729.3,268.3 1729.6,268.3 1729.9,305.0 1730.2,305.0 1730.5,329.6 1730.8,305.0 1731.1,263.1 1731.4,258.2 1731.7,274.1 1732.0,253.7 1732.3,287.6 1732.6,280.5 1732.9,280.5 1733.2,258.2 1733.5,280.5 1733.8,274.1 1734.1,274.1 1734.4,295.7 1734.7,305.0 1735.0,249.5 1735.3,287.6 1735.6,329.6 1735.9,274.1 1736.2,287.6 1736.5,316.1 1736.8,253.7 1737.1,305.0 1737.4,287.6 1737.7,263.1 1738.0,305.0 1738.3,295.7 1738.6,258.2 1738.9,295.7 1739.2,268.3 1739.5,268.3 1739.8,280.5 1740.1,274.1 1740.4,316.1 1740.7,280.5 1741.0,274.1 1741.3,305.0 1741.6,316.1 1741.9,280.5 1742.2,305.0 1742.5,305.0 1742.8,347.0 1743.1,263.1 1743.4,295.7 1743.7,280.5 1744.0,274.1 1744.3,274.1 1744.6,295.7 1744.9,295.7 1745.2,316.1 1745.5,295.7 1745.8,316.1 1746.1,316.1 1746.4,316.1 1746.7,329.6 1747.0,305.0 1747.3,280.5 1747.6,258.2 1747.9,305.0 1748.2,329.6 1748.5,287.6 1748.8,268.3 1749.1,295.7 1749.4,347.0 1749.7,258.2 1750.0,280.5 1750.3,329.6 1750.6,329.6 1750.9,295.7 1751.2,305.0 1751.5,287.6 1751.8,295.7 1752.1,305.0 1752.4,295.7 1752.7,305.0 1753.0,295.7 1753.3,329.6 1753.6,371.6 1753.9,347.0 1754.2,245.6 1754.5,316.1 1754.8,329.6 1755.1,287.6 1755.4,316.1 1755.7,280.5 1756.0,371.6 1756.3,329.6 1756.6,371.6 1756.9,287.6 1757.2,347.0 1757.5,316.1 1757.8,371.6 1758.1,295.7 1758.4,268.3 1758.7,295.7 1759.0,295.7 1759.3,263.1 1759.6,371.6 1759.9,295.7 1760.2,287.6 1760.5,305.0 1760.8,287.6 1761.1,305.0 1761.4,305.0 1761.7,329.6 1762.0,287.6 1762.3,280.5 1762.6,371.6 1762.9,329.6 1763.2,287.6 1763.5,287.6 1763.8,347.0 1764.1,295.7 1764.4,316.1 1764.7,295.7 1765.0,329.6 1765.3,329.6 1765.6,413.6 1765.9,316.1 1766.2,329.6 1766.5,316.1 1766.8,268.3 1767.1,305.0 1767.4,305.0 1767.7,347.0 1768.0,316.1 1768.3,295.7 1768.6,347.0 1768.9,295.7 1769.2,347.0 1769.5,329.6 1769.8,329.6 1770.1,305.0 1770.4,295.7 1770.7,280.5 1771.0,329.6 1771.3,268.3 1771.6,329.6 1771.9,347.0 1772.2,316.1 1772.5,329.6 1772.8,316.1 1773.1,316.1 1773.4,329.6 1773.7,316.1 1774.0,347.0 1774.3,295.7 1774.6,371.6 1774.9,316.1 1775.2,329.6 1775.5,316.1 1775.8,316.1 1776.1,305.0 1776.4,305.0 1776.7,329.6 1777.0,316.1 1777.3,347.0 1777.6,287.6 1777.9,329.6 1778.2,295.7 1778.5,295.7 1778.8,329.6 1779.1,347.0 1779.4,316.1 1779.7,329.6 1780.0,295.7 1780.3,329.6 1780.6,295.7 1780.9,413.6 1781.2,329.6 1781.5,371.6 1781.8,316.1 1782.1,413.6 1782.4,329.6 1782.7,371.6 1783.0,316.1 1783.3,371.6 1783.6,347.0 1783.9,316.1 1784.2,305.0 1784.5,305.0 1784.8,329.6 1785.1,371.6 1785.4,316.1 1785.7,413.6 1786.0,329.6 1786.3,347.0 1786.6,316.1 1786.9,347.0 1787.2,287.6 1787.5,413.6 1787.8,316.1 1788.1,305.0 1788.4,329.6 1788.7,329.6 1789.0,371.6 1789.3,329.6 1789.6,347.0 1789.9,287.6 1790.2,329.6 1790.5,371.6 1790.8,347.0 1791.1,347.0 1791.4,316.1 1791.7,347.0 1792.0,427.8 1792.3,371.6 1792.6,295.7 1792.9,295.7 1793.2,347.0 1793.5,316.1 1793.8,316.1 1794.1,316.1 1794.4,347.0 1794.7,305.0 1795.0,347.0 1795.3,305.0 1795.6,316.1 1795.9,305.0 1796.2,427.8 1796.5,371.6 1796.8,329.6 1797.1,316.1 1797.4,295.7 1797.7,347.0 1798.0,347.0 1798.3,329.6 1798.6,295.7 1798.9,347.0 1799.2,347.0 1799.5,316.1 1799.8,316.1 1800.1,371.6 1800.4,347.0 1800.7,371.6 1801.0,347.0 1801.3,329.6 1801.6,329.6 1801.9,329.6 1802.2,329.6 1802.5,316.1 1802.8,371.6 1803.1,305.0 1803.4,329.6 1803.7,305.0 1804.0,280.5 1804.3,371.6 1804.6,316.1 1804.9,347.0 1805.2,329.6 1805.5,329.6 1805.8,329.6 1806.1,371.6 1806.4,371.6 1806.7,427.8 1807.0,329.6 1807.3,413.6 1807.6,371.6 1807.9,329.6 1808.2,305.0 1808.5,413.6 1808.8,316.1 1809.1,347.0 1809.4,427.8 1809.7,371.6 1810.0,329.6 1810.3,371.6 1810.6,371.6 1810.9,280.5 1811.2,329.6 1811.5,316.1 1811.8,329.6 1812.1,316.1 1812.4,316.1 1812.7,347.0 1813.0,329.6 1813.3,347.0 1813.6,329.6 1813.9,305.0 1814.2,347.0 1814.5,329.6 1814.8,347.0 1815.1,305.0 1815.4,287.6 1815.7,316.1 1816.0,371.6 1816.3,316.1 1816.6,413.6 1816.9,316.1 1817.2,413.6 1817.5,347.0 1817.8,427.8 1818.1,305.0 1818.4,347.0 1818.7,329.6 1819.0,371.6 1819.3,329.6 1819.6,371.6 1819.9,371.6 1820.2,347.0 1820.5,329.6 1820.8,413.6 1821.1,347.0 1821.4,316.1 1821.7,427.8 1822.0,371.6 1822.3,371.6 1822.6,347.0 1822.9,329.6 1823.2,347.0 1823.5,371.6 1823.8,347.0 1824.1,371.6 1824.4,316.1 1824.7,316.1 1825.0,287.6 1825.3,347.0 1825.6,316.1 1825.9,347.0 1826.2,413.6 1826.5,347.0 1826.8,347.0 1827.1,329.6 1827.4,295.7 1827.7,347.0 1828.0,329.6 1828.3,347.0 1828.6,413.6 1828.9,329.6 1829.2,427.8 1829.5,413.6 1829.8,329.6 1830.1,371.6 1830.4,305.0 1830.7,316.1 1831.0,427.8 1831.3,305.0 1831.6,347.0 1831.9,305.0 1832.2,347.0 1832.5,371.6 1832.8,371.6 1833.1,371.6 1833.4,329.6 1833.7,305.0 1834.0,347.0 1834.3,413.6 1834.6,371.6 1834.9,329.6 1835.2,316.1 1835.5,347.0 1835.8,413.6 1836.1,305.0 1836.4,295.7 1836.7,316.1 1837.0,371.6 1837.3,371.6 1837.6,329.6 1837.9,371.6 1838.2,305.0 1838.5,305.0 1838.8,329.6 1839.1,371.6 1839.4,347.0 1839.7,316.1 1840.0,329.6 1840.3,329.6 1840.6,316.1 1840.9,371.6 1841.2,347.0 1841.5,371.6 1841.8,413.6 1842.1,329.6 1842.4,329.6 1842.7,347.0 1843.0,329.6 1843.3,371.6 1843.6,347.0 1843.9,329.6 1844.2,371.6 1844.5,347.0 1844.8,329.6 1845.1,295.7 1845.4,347.0 1845.7,329.6 1846.0,427.8 1846.3,347.0 1846.6,347.0 1846.9,329.6 1847.2,413.6 1847.5,316.1 1847.8,427.8 1848.1,329.6 1848.4,347.0 1848.7,371.6 1849.0,371.6 1849.3,305.0 1849.6,305.0 1849.9,347.0 1850.2,305.0 1850.5,347.0 1850.8,347.0 1851.1,287.6 1851.4,347.0 1851.7,329.6 1852.0,305.0 1852.3,347.0 1852.6,305.0 1852.9,316.1 1853.2,316.1 1853.5,427.8 1853.8,371.6 1854.1,413.6 1854.4,347.0 1854.7,316.1 1855.0,329.6 1855.3,329.6 1855.6,371.6 1855.9,347.0 1856.2,295.7 1856.5,347.0 1856.8,305.0 1857.1,329.6 1857.4,371.6 1857.7,347.0 1858.0,413.6 1858.3,413.6 1858.6,347.0 1858.9,371.6 1859.2,347.0 1859.5,371.6 1859.8,427.8 1860.1,371.6 1860.4,329.6 1860.7,347.0 1861.0,347.0 1861.3,347.0 1861.6,329.6 1861.9,371.6 1862.2,305.0 1862.5,295.7 1862.8,347.0 1863.1,329.6 1863.4,347.0 1863.7,329.6 1864.0,347.0 1864.3,371.6 1864.6,413.6 1864.9,347.0 1865.2,371.6 1865.5,427.8 1865.8,427.8 1866.1,329.6 1866.4,316.1 1866.7,329.6 1867.0,371.6 1867.3,268.3 1867.6,427.8 1867.9,329.6 1868.2,316.1 1868.5,413.6 1868.8,413.6 1869.1,413.6 1869.4,329.6 1869.7,347.0 1870.0,305.0 1870.3,347.0 1870.6,413.6 1870.9,316.1 1871.2,329.6 1871.5,413.6 1871.8,371.6 1872.1,347.0 1872.4,371.6 1872.7,413.6 1873.0,347.0 1873.3,371.6 1873.6,329.6 1873.9,371.6 1874.2,347.0 1874.5,329.6 1874.8,347.0 1875.1,347.0 1875.4,329.6 1875.7,329.6 1876.0,371.6 1876.3,427.8 1876.6,329.6 1876.9,347.0 1877.2,347.0 1877.5,371.6 1877.8,413.6 1878.1,347.0 1878.4,347.0 1878.7,347.0 1879.0,316.1 1879.3,329.6 1879.6,329.6 1879.9,347.0 1880.2,287.6 1880.5,347.0 1880.8,329.6 1881.1,347.0 1881.4,413.6 1881.7,329.6 1882.0,316.1 1882.3,329.6 1882.6,371.6 1882.9,371.6 1883.2,305.0 1883.5,329.6 1883.8,347.0 1884.1,347.0 1884.4,316.1 1884.7,329.6 1885.0,371.6 1885.3,413.6 1885.6,329.6 1885.9,347.0 1886.2,371.6 1886.5,427.8 1886.8,329.6 1887.1,413.6 1887.4,347.0 1887.7,371.6 1888.0,371.6 1888.3,371.6 1888.6,371.6 1888.9,305.0 1889.2,316.1 1889.5,347.0 1889.8,316.1 1890.1,371.6 1890.4,316.1 1890.7,371.6 1891.0,329.6 1891.3,371.6 1891.6,295.7 1891.9,371.6 1892.2,316.1 1892.5,413.6 1892.8,347.0 1893.1,413.6 1893.4,329.6 1893.7,347.0 1894.0,347.0 1894.3,347.0 1894.6,347.0 1894.9,371.6 1895.2,316.1 1895.5,413.6 1895.8,371.6 1896.1,295.7 1896.4,329.6 1896.7,371.6 1897.0,329.6 1897.3,329.6 1897.6,316.1 1897.9,305.0 1898.2,347.0 1898.5,329.6 1898.8,371.6 1899.1,316.1 1899.4,347.0 1899.7,371.6 1900.0,371.6 1900.3,413.6 1900.6,316.1 1900.9,371.6 1901.2,329.6 1901.5,347.0 1901.8,329.6 1902.1,295.7 1902.4,347.0 1902.7,316.1 1903.0,305.0 1903.3,329.6 1903.6,295.7 1903.9,329.6 1904.2,329.6 1904.5,329.6 1904.8,371.6 1905.1,413.6 1905.4,316.1 1905.7,413.6 1906.0,329.6 1906.3,371.6 1906.6,347.0 1906.9,347.0 1907.2,316.1 1907.5,413.6 1907.8,371.6 1908.1,316.1 1908.4,413.6 1908.7,329.6 1909.0,347.0 1909.3,305.0 1909.6,413.6 1909.9,347.0 1910.0,428.0" fill="none" stroke="#00c800" stroke-width="3.0" stroke-linejoin="round" stroke-miterlimit="3" />
<polyline points="671.2,441.0 671.2,130.3 671.5,130.3 673.0,138.1 674.5,143.9 676.0,148.1 677.5,151.2 679.0,153.5 680.5,155.3 682.0,156.6 683.5,157.8 685.0,158.7 686.5,159.6 688.0,160.3 689.5,161.1 691.0,161.8 692.5,162.5 694.0,163.1 695.5,163.8 697.0,164.5 698.5,165.1 700.0,165.8 701.5,166.4 703.0,167.1 704.5,167.7 706.0,168.4 707.5,169.0 709.0,169.7 710.5,170.3 712.0,171.0 713.5,171.6 715.0,172.3 716.5,172.9 718.0,173.5 719.5,174.2 721.0,174.8 722.5,175.5 724.0,176.1 725.5,176.8 727.0,177.4 728.5,178.1 730.0,178.7 731.5,179.4 733.0,180.0 734.5,180.7 736.0,181.3 737.5,182.0 739.0,182.6 740.5,183.3 742.0,183.9 743.5,184.6 745.0,185.2 746.5,185.8 748.0,186.5 749.5,187.1 751.0,187.8 752.5,188.4 754.0,189.1 755.5,189.7 757.0,190.4 758.5,191.0 760.0,191.7 761.5,192.3 763.0,193.0 764.5,193.6 766.0,194.3 767.5,194.9 769.0,195.5 770.5,196.2 772.0,196.8 773.5,197.5 775.0,198.1 776.5,198.8 778.0,199.4 779.5,200.1 781.0,200.7 782.5,201.4 784.0,202.0 785.5,202.7 787.0,203.3 788.5,204.0 790.0,204.6 791.5,205.2 793.0,205.9 794.5,206.5 796.0,207.2 797.5,207.8 799.0,208.5 800.5,209.1 802.0,209.8 803.5,210.4 805.0,211.1 806.5,211.7 808.0,212.4 809.5,213.0 811.0,213.6 812.5,214.3 814.0,214.9 815.5,215.6 817.0,216.2 818.5,216.9 820.0,217.5 821.5,218.2 823.0,218.8 824.5,219.5 826.0,220.1 827.5,220.7 829.0,221.4 830.5,222.0 832.0,222.7 833.5,223.3 835.0,224.0 836.5,224.6 838.0,225.3 839.5,225.9 841.0,226.6 842.5,227.2 844.0,227.8 845.5,228.5 847.0,229.1 848.5,229.8 850.0,230.4 851.5,231.1 853.0,231.7 854.5,232.4 856.0,233.0 857.5,233.6 859.0,234.3 860.5,234.9 862.0,235.6 863.5,236.2 865.0,236.9 866.5,237.5 868.0,238.1 869.5,238.8 871.0,239.4 872.5,240.1 874.0,240.7 875.5,241.4 877.0,242.0 878.5,242.7 880.0,243.3 881.5,243.9 883.0,244.6 884.5,245.2 886.0,245.9 887.5,246.5 889.0,247.2 890.5,247.8 892.0,248.4 893.5,249.1 895.0,249.7 896.5,250.4 898.0,251.0 899.5,251.7 901.0,252.3 902.5,252.9 904.0,253.6 905.5,254.2 907.0,254.9 908.5,255.5 910.0,256.2 911.5,256.8 913.0,257.4 914.5,258.1 916.0,258.7 917.5,259.4 919.0,260.0 920.5,260.6 922.0,261.3 923.5,261.9 925.0,262.6 926.5,263.2 928.0,263.9 929.5,264.5 931.0,265.1 932.5,265.8 934.0,266.4 935.5,267.1 937.0,267.7 938.5,268.3 940.0,269.0 941.5,269.6 943.0,270.3 944.5,270.9 946.0,271.5 947.5,272.2 949.0,272.8 950.5,273.5 952.0,274.1 953.5,274.7 955.0,275.4 956.5,276.0 958.0,276.7 959.5,277.3 961.0,277.9 962.5,278.6 964.0,279.2 965.5,279.8 967.0,280.5 968.5,281.1 970.0,281.8 971.5,282.4 973.0,283.0 974.5,283.7 976.0,284.3 977.5,284.9 979.0,285.6 980.5,286.2 982.0,286.9 983.5,287.5 985.0,288.1 986.5,288.8 988.0,289.4 989.5,290.0 991.0,290.7 992.5,291.3 994.0,292.0 995.5,292.6 997.0,293.2 998.5,293.9 1000.0,294.5 1001.5,295.1 1003.0,295.8 1004.5,296.4 1006.0,297.0 1007.5,297.7 1009.0,298.3 1010.5,298.9 1012.0,299.6 1013.5,300.2 1015.0,300.8 1016.5,301.5 1018.0,302.1 1019.5,302.7 1021.0,303.4 1022.5,304.0 1024.0,304.6 1025.5,305.3 1027.0,305.9 1028.5,306.5 1030.0,307.2 1031.5,307.8 1033.0,308.4 1034.5,309.1 1036.0,309.7 1037.5,310.3 1039.0,311.0 1040.5,311.6 1042.0,312.2 1043.5,312.9 1045.0,313.5 1046.5,314.1 1048.0,314.7 1049.5,315.4 1051.0,316.0 1052.5,316.6 1054.0,317.3 1055.5,317.9 1057.0,318.5 1058.5,319.1 1060.0,319.8 1061.5,320.4 1063.0,321.0 1064.5,321.7 1066.0,322.3 1067.5,322.9 1069.0,323.5 1070.5,324.2 1072.0,324.8 1073.5,325.4 1075.0,326.0 1076.5,326.7 1078.0,327.3 1079.5,327.9 1081.0,328.5 1082.5,329.2 1084.0,329.8 1085.5,330.4 1087.0,331.0 1088.5,331.7 1090.0,332.3 1091.5,332.9 1093.0,333.5 1094.5,334.2 1096.0,334.8 1097.5,335.4 1099.0,336.0 1100.5,336.6 1102.0,337.3 1103.5,337.9 1105.0,338.5 1106.5,339.1 1108.0,339.7 1109.5,340.4 1111.0,341.0 1112.5,341.6 1114.0,342.2 1115.5,342.8 1117.0,343.5 1118.5,344.1 1120.0,344.7 1121.5,345.3 1123.0,345.9 1124.5,346.5 1126.0,347.2 1127.5,347.8 1129.0,348.4 1130.5,349.0 1132.0,349.6 1133.5,350.2 1135.0,350.8 1136.5,351.5 1138.0,352.1 1139.5,352.7 1141.0,353.3 1142.5,353.9 1144.0,354.5 1145.5,355.1 1147.0,355.7 1148.5,356.4 1150.0,357.0 1151.5,357.6 1153.0,358.2 1154.5,358.8 1156.0,359.4 1157.5,360.0 1159.0,360.6 1160.5,361.2 1162.0,361.8 1163.5,362.4 1165.0,363.0 1166.5,363.6 1168.0,364.3 1169.5,364.9 1171.0,365.5 1172.5,366.1 1174.0,366.7 1175.5,367.3 1177.0,367.9 1178.5,368.5 1180.0,369.1 1181.5,369.7 1183.0,370.3 1184.5,370.9 1186.0,371.5 1187.5,372.1 1189.0,372.7 1190.5,373.3 1192.0,373.9 1193.5,374.5 1195.0,375.1 1196.5,375.7 1198.0,376.3" fill="none" stroke="#000" stroke-width="5.0" stroke-linejoin="round" stroke-miterlimit="3" stroke-linecap="round"/>
<polyline points="1638.0,428.0 1638.0,110.4 1638.0,110.4 1639.5,115.6 1641.0,120.5 1642.5,125.3 1644.0,129.8 1645.5,134.1 1647.0,138.3 1648.5,142.3 1650.0,146.2 1651.5,149.9 1653.0,153.6 1654.5,157.1 1656.0,160.6 1657.5,164.0 1659.0,167.3 1660.5,170.5 1662.0,173.7 1663.5,176.9 1665.0,180.0 1666.5,183.0 1668.0,186.1 1669.5,189.1 1671.0,192.0 1672.5,195.0 1674.0,197.9 1675.5,200.8 1677.0,203.7 1678.5,206.6 1680.0,209.4 1681.5,212.3 1683.0,215.1 1684.5,217.9 1686.0,220.7 1687.5,223.5 1689.0,226.3 1690.5,229.1 1692.0,231.9 1693.5,234.6 1695.0,237.4 1696.5,240.1 1698.0,242.9 1699.5,245.6 1701.0,248.4 1702.5,251.1 1704.0,253.8 1705.5,256.6 1707.0,259.3 1708.5,262.0 1710.0,264.7 1711.5,267.4 1713.0,270.2 1714.5,272.9 1716.0,275.6 1717.5,278.3 1719.0,281.0 1720.5,283.7 1722.0,286.4 1723.5,289.1 1725.0,291.8 1726.5,294.5 1728.0,297.2 1729.5,299.9 1731.0,302.5 1732.5,305.2 1734.0,307.9 1735.5,310.6 1737.0,313.3 1738.5,316.0 1740.0,318.7 1741.5,321.4 1743.0,324.0 1744.5,326.7 1746.0,329.4 1747.5,332.1 1749.0,334.8 1750.5,337.4 1752.0,340.1 1753.5,342.8 1755.0,345.5 1756.5,348.2 1758.0,350.8 1759.5,353.5 1761.0,356.2 1762.5,358.9 1764.0,361.5 1765.5,364.2 1767.0,366.9 1768.5,369.6 1770.0,372.2 1771.5,374.9 1773.0,377.6 1774.5,380.3 1776.0,382.9 1777.5,385.6 1779.0,388.3 1780.5,391.0 1782.0,393.6 1783.5,396.3 1785.0,399.0 1786.5,401.7 1788.0,404.3 1789.5,407.0 1791.0,409.7 1792.5,412.4 1794.0,415.0 1795.5,417.7 1797.0,420.4 1798.5,423.0 1800.0,425.7 1801.5,428.0" fill="none" stroke="#000" stroke-width="5.0" stroke-linejoin="round" stroke-miterlimit="3" stroke-linecap="round"/>
<text x="306.0" y="1195.8" font-size="56" fill="#000" text-anchor="middle" >0</text>
<text x="555.8" y="1195.8" font-size="56" fill="#000" text-anchor="middle" >500</text>
<text x="805.6" y="1195.8" font-size="56" fill="#000" text-anchor="middle" >1000</text>
<text x="1055.4" y="1195.8" font-size="56" fill="#000" text-anchor="middle" >1500</text>
<text x="1274.8" y="1193.6" font-size="56" fill="#000" text-anchor="middle" >0</text>
<text x="1524.6" y="1193.6" font-size="56" fill="#000" text-anchor="middle" >500</text>
<text x="1774.4" y="1193.6" font-size="56" fill="#000" text-anchor="middle" >1000</text>
<text x="2024.2" y="1193.6" font-size="56" fill="#000" text-anchor="middle" >1500</text>
<text x="668.6" y="501.6" font-size="43.5" fill="#000" text-anchor="middle" >0</text>
<text x="802.8" y="501.6" font-size="43.5" fill="#000" text-anchor="middle" >40</text>
<text x="935.4" y="501.6" font-size="43.5" fill="#000" text-anchor="middle" >80</text>
<text x="1069.1" y="501.6" font-size="43.5" fill="#000" text-anchor="middle" >120</text>
<text x="1200.8" y="501.6" font-size="43.5" fill="#000" text-anchor="middle" >160</text>
<text x="1634.8" y="490.6" font-size="43.5" fill="#000" text-anchor="middle" >0</text>
<text x="1769.6" y="490.6" font-size="43.5" fill="#000" text-anchor="middle" >40</text>
<text x="1899.0" y="490.6" font-size="43.5" fill="#000" text-anchor="middle" >80</text>
<text x="2033.2" y="490.6" font-size="43.5" fill="#000" text-anchor="middle" >120</text>
<text x="2165.5" y="490.6" font-size="43.5" fill="#000" text-anchor="middle" >160</text>
<text x="183.0" y="225.0" font-size="56" fill="#000" text-anchor="start" >10</text>
<text x="245.5" y="185.0" font-size="38" fill="#000" text-anchor="start" >1</text>
<text x="183.0" y="683.5" font-size="56" fill="#000" text-anchor="start" >10</text>
<text x="243.5" y="647.7" font-size="43.5" fill="#000" text-anchor="start" >0</text>
<text x="172.0" y="1142.0" font-size="56" fill="#000" text-anchor="start" >10</text>
<text x="231.0" y="1106.0" font-size="43.5" fill="#000" text-anchor="start" >-1</text>
<text x="350.8" y="159.2" font-size="76" fill="#000" text-anchor="start" >(a) 6 K</text>
<text x="1319.3" y="165.0" font-size="76" fill="#000" text-anchor="start" >(b) 20 K</text>
<text x="1037.5" y="222.0" font-size="88" fill="#00c800" text-anchor="start" >A</text>
<text x="1815.0" y="227.0" font-size="88" fill="#00c800" text-anchor="start" >A</text>
<text x="534.0" y="996.2" font-size="88" fill="#ff0000" text-anchor="start" >B</text>
<text x="1464.5" y="1009.5" font-size="88" fill="#ff0000" text-anchor="start" >B</text>
<text x="849.0" y="755.0" font-size="88" fill="#0000ff" text-anchor="start" >C</text>
<text x="1803.5" y="683.0" font-size="88" fill="#0000ff" text-anchor="start" >C</text>
<text x="1126.5" y="1308.8" font-size="66" fill="#000" text-anchor="start" >Time (&#956;s)</text>
<text transform="translate(107,818) rotate(-90)" font-size="65.5" fill="#000">PL intensity (a. u.)</text>
</svg>
</body></html>
